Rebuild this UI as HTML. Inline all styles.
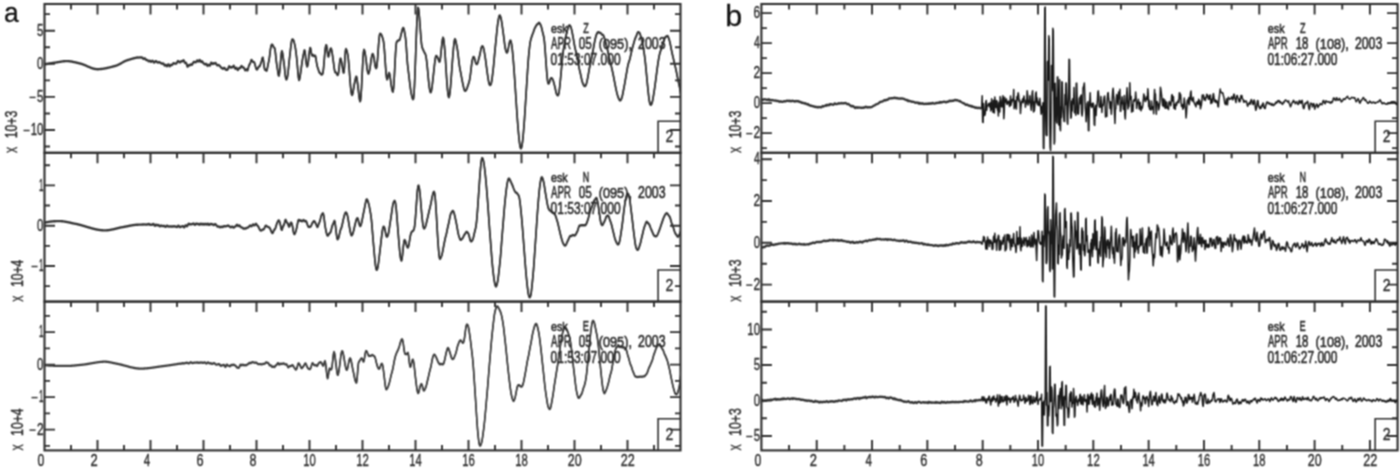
<!DOCTYPE html>
<html><head><meta charset="utf-8"><title>Seismograms</title>
<style>html,body{margin:0;padding:0;background:#fff;}body{width:1400px;height:468px;overflow:hidden;font-family:"Liberation Sans",sans-serif;}svg{display:block;}</style>
</head><body>
<svg width="1400" height="468" viewBox="0 0 1400 468" font-family="'Liberation Sans', sans-serif"><defs><filter id="soft" x="0" y="0" width="1400" height="468" filterUnits="userSpaceOnUse" color-interpolation-filters="sRGB"><feConvolveMatrix order="3" kernelMatrix="1 2 1 2 4 2 1 2 1" divisor="16" edgeMode="duplicate"/></filter></defs><g filter="url(#soft)"><rect width="1400" height="468" fill="#fff"/><path d="M71 4V9.5M97.5 4V14.5M124 4V9.5M150.5 4V14.5M177 4V9.5M203.5 4V14.5M230 4V9.5M256.5 4V14.5M283 4V9.5M309.5 4V14.5M336 4V9.5M362.5 4V14.5M389 4V9.5M415.5 4V14.5M442 4V9.5M468.5 4V14.5M495 4V9.5M521.5 4V14.5M548 4V9.5M574.5 4V14.5M601 4V9.5M627.5 4V14.5M654 4V9.5M44.5 146.55H50M680.5 146.55H675M44.5 130H55M680.5 130H670M44.5 113.45H50M680.5 113.45H675M44.5 96.9H55M680.5 96.9H670M44.5 80.35H50M680.5 80.35H675M44.5 63.8H55M680.5 63.8H670M44.5 47.25H50M680.5 47.25H675M44.5 30.7H55M680.5 30.7H670M44.5 14.15H50M680.5 14.15H675" stroke="#2e2e2e" stroke-width="1.9" fill="none"/>
<rect x="44.5" y="4" width="636" height="148.8" stroke="#2e2e2e" stroke-width="2.1" fill="none"/>
<path d="M789.06 4V9.5M816.72 4V14.5M844.38 4V9.5M872.04 4V14.5M899.7 4V9.5M927.36 4V14.5M955.02 4V9.5M982.68 4V14.5M1010.34 4V9.5M1038 4V14.5M1065.66 4V9.5M1093.32 4V14.5M1120.98 4V9.5M1148.64 4V14.5M1176.3 4V9.5M1203.96 4V14.5M1231.62 4V9.5M1259.28 4V14.5M1286.94 4V9.5M1314.6 4V14.5M1342.26 4V9.5M1369.92 4V14.5M761.4 148.1H766.9M1397.58 148.1H1392.08M761.4 133.1H771.9M1397.58 133.1H1387.08M761.4 118.1H766.9M1397.58 118.1H1392.08M761.4 103.1H771.9M1397.58 103.1H1387.08M761.4 88.1H766.9M1397.58 88.1H1392.08M761.4 73.1H771.9M1397.58 73.1H1387.08M761.4 58.1H766.9M1397.58 58.1H1392.08M761.4 43.1H771.9M1397.58 43.1H1387.08M761.4 28.1H766.9M1397.58 28.1H1392.08M761.4 13.1H771.9M1397.58 13.1H1387.08" stroke="#2e2e2e" stroke-width="1.9" fill="none"/>
<rect x="761.4" y="4" width="636.18" height="148.8" stroke="#2e2e2e" stroke-width="2.1" fill="none"/>
<path d="M71 152.8V158.3M97.5 152.8V163.3M124 152.8V158.3M150.5 152.8V163.3M177 152.8V158.3M203.5 152.8V163.3M230 152.8V158.3M256.5 152.8V163.3M283 152.8V158.3M309.5 152.8V163.3M336 152.8V158.3M362.5 152.8V163.3M389 152.8V158.3M415.5 152.8V163.3M442 152.8V158.3M468.5 152.8V163.3M495 152.8V158.3M521.5 152.8V163.3M548 152.8V158.3M574.5 152.8V163.3M601 152.8V158.3M627.5 152.8V163.3M654 152.8V158.3M44.5 286.15H50M680.5 286.15H675M44.5 266H55M680.5 266H670M44.5 245.85H50M680.5 245.85H675M44.5 225.7H55M680.5 225.7H670M44.5 205.55H50M680.5 205.55H675M44.5 185.4H55M680.5 185.4H670M44.5 165.25H50M680.5 165.25H675" stroke="#2e2e2e" stroke-width="1.9" fill="none"/>
<rect x="44.5" y="152.8" width="636" height="148.8" stroke="#2e2e2e" stroke-width="2.1" fill="none"/>
<path d="M789.06 152.8V158.3M816.72 152.8V163.3M844.38 152.8V158.3M872.04 152.8V163.3M899.7 152.8V158.3M927.36 152.8V163.3M955.02 152.8V158.3M982.68 152.8V163.3M1010.34 152.8V158.3M1038 152.8V163.3M1065.66 152.8V158.3M1093.32 152.8V163.3M1120.98 152.8V158.3M1148.64 152.8V163.3M1176.3 152.8V158.3M1203.96 152.8V163.3M1231.62 152.8V158.3M1259.28 152.8V163.3M1286.94 152.8V158.3M1314.6 152.8V163.3M1342.26 152.8V158.3M1369.92 152.8V163.3M761.4 284.6H771.9M1397.58 284.6H1387.08M761.4 263.7H766.9M1397.58 263.7H1392.08M761.4 242.8H771.9M1397.58 242.8H1387.08M761.4 221.9H766.9M1397.58 221.9H1392.08M761.4 201H771.9M1397.58 201H1387.08M761.4 180.1H766.9M1397.58 180.1H1392.08M761.4 159.2H771.9M1397.58 159.2H1387.08" stroke="#2e2e2e" stroke-width="1.9" fill="none"/>
<rect x="761.4" y="152.8" width="636.18" height="148.8" stroke="#2e2e2e" stroke-width="2.1" fill="none"/>
<path d="M71 301.6V307.1M71 450.4V444.9M97.5 301.6V312.1M97.5 450.4V439.9M124 301.6V307.1M124 450.4V444.9M150.5 301.6V312.1M150.5 450.4V439.9M177 301.6V307.1M177 450.4V444.9M203.5 301.6V312.1M203.5 450.4V439.9M230 301.6V307.1M230 450.4V444.9M256.5 301.6V312.1M256.5 450.4V439.9M283 301.6V307.1M283 450.4V444.9M309.5 301.6V312.1M309.5 450.4V439.9M336 301.6V307.1M336 450.4V444.9M362.5 301.6V312.1M362.5 450.4V439.9M389 301.6V307.1M389 450.4V444.9M415.5 301.6V312.1M415.5 450.4V439.9M442 301.6V307.1M442 450.4V444.9M468.5 301.6V312.1M468.5 450.4V439.9M495 301.6V307.1M495 450.4V444.9M521.5 301.6V312.1M521.5 450.4V439.9M548 301.6V307.1M548 450.4V444.9M574.5 301.6V312.1M574.5 450.4V439.9M601 301.6V307.1M601 450.4V444.9M627.5 301.6V312.1M627.5 450.4V439.9M654 301.6V307.1M654 450.4V444.9M44.5 445.85H50M680.5 445.85H675M44.5 429.6H55M680.5 429.6H670M44.5 413.35H50M680.5 413.35H675M44.5 397.1H55M680.5 397.1H670M44.5 380.85H50M680.5 380.85H675M44.5 364.6H55M680.5 364.6H670M44.5 348.35H50M680.5 348.35H675M44.5 332.1H55M680.5 332.1H670M44.5 315.85H50M680.5 315.85H675" stroke="#2e2e2e" stroke-width="1.9" fill="none"/>
<rect x="44.5" y="301.6" width="636" height="148.8" stroke="#2e2e2e" stroke-width="2.1" fill="none"/>
<path d="M789.06 301.6V307.1M789.06 450.4V444.9M816.72 301.6V312.1M816.72 450.4V439.9M844.38 301.6V307.1M844.38 450.4V444.9M872.04 301.6V312.1M872.04 450.4V439.9M899.7 301.6V307.1M899.7 450.4V444.9M927.36 301.6V312.1M927.36 450.4V439.9M955.02 301.6V307.1M955.02 450.4V444.9M982.68 301.6V312.1M982.68 450.4V439.9M1010.34 301.6V307.1M1010.34 450.4V444.9M1038 301.6V312.1M1038 450.4V439.9M1065.66 301.6V307.1M1065.66 450.4V444.9M1093.32 301.6V312.1M1093.32 450.4V439.9M1120.98 301.6V307.1M1120.98 450.4V444.9M1148.64 301.6V312.1M1148.64 450.4V439.9M1176.3 301.6V307.1M1176.3 450.4V444.9M1203.96 301.6V312.1M1203.96 450.4V439.9M1231.62 301.6V307.1M1231.62 450.4V444.9M1259.28 301.6V312.1M1259.28 450.4V439.9M1286.94 301.6V307.1M1286.94 450.4V444.9M1314.6 301.6V312.1M1314.6 450.4V439.9M1342.26 301.6V307.1M1342.26 450.4V444.9M1369.92 301.6V312.1M1369.92 450.4V439.9M761.4 436H771.9M1397.58 436H1387.08M761.4 418.25H766.9M1397.58 418.25H1392.08M761.4 400.5H771.9M1397.58 400.5H1387.08M761.4 382.75H766.9M1397.58 382.75H1392.08M761.4 365H771.9M1397.58 365H1387.08M761.4 347.25H766.9M1397.58 347.25H1392.08M761.4 329.5H771.9M1397.58 329.5H1387.08M761.4 311.75H766.9M1397.58 311.75H1392.08" stroke="#2e2e2e" stroke-width="1.9" fill="none"/>
<rect x="761.4" y="301.6" width="636.18" height="148.8" stroke="#2e2e2e" stroke-width="2.1" fill="none"/>
<defs><clipPath id="ca0"><rect x="44.5" y="4" width="636" height="148.8"/></clipPath><clipPath id="ca1"><rect x="44.5" y="152.8" width="636" height="148.8"/></clipPath><clipPath id="ca2"><rect x="44.5" y="301.6" width="636" height="148.8"/></clipPath><clipPath id="cb0"><rect x="761.4" y="4" width="636.2" height="148.8"/></clipPath><clipPath id="cb1"><rect x="761.4" y="152.8" width="636.2" height="148.8"/></clipPath><clipPath id="cb2"><rect x="761.4" y="301.6" width="636.2" height="148.8"/></clipPath></defs>
<g clip-path="url(#ca0)"><path id="ca0p" d="M45 64.4 45.5 64.3 46 64.21 46.5 64.11 47 64.02 47.5 63.93 48 63.83 48.5 63.74 49 63.65 49.5 63.56 50 63.48 50.5 63.39 51 63.3 51.5 63.22 52 63.13 52.5 63.05 53 62.97 53.5 62.89 54 62.81 54.5 62.73 55 62.65 55.5 62.58 56 62.5 56.5 62.42 57 62.34 57.5 62.26 58 62.17 58.5 62.09 59 62 59.5 61.91 60 61.83 60.5 61.74 61 61.66 61.5 61.58 62 61.5 62.5 61.43 63 61.36 63.5 61.3 64 61.25 64.5 61.2 65 61.16 65.5 61.13 66 61.11 66.5 61.1 67 61.1 67.5 61.11 68 61.14 68.5 61.17 69 61.21 69.5 61.27 70 61.33 70.5 61.4 71 61.47 71.5 61.56 72 61.65 72.5 61.74 73 61.84 73.5 61.95 74 62.06 74.5 62.17 75 62.29 75.5 62.41 76 62.53 76.5 62.65 77 62.78 77.5 62.9 78 63.02 78.5 63.14 79 63.26 79.5 63.38 80 63.5 80.5 63.62 81 63.76 81.5 63.91 82 64.07 82.5 64.24 83 64.42 83.5 64.61 84 64.81 84.5 65.01 85 65.22 85.5 65.44 86 65.66 86.5 65.88 87 66.1 87.5 66.32 88 66.54 88.5 66.76 89 66.98 89.5 67.19 90 67.4 90.5 67.6 91 67.8 91.5 67.98 92 68.16 92.5 68.33 93 68.48 93.5 68.63 94 68.75 94.5 68.87 95 68.97 95.5 69.05 96 69.12 96.5 69.17 97 69.19 97.5 69.2 98 69.19 98.5 69.18 99 69.16 99.5 69.13 100 69.1 100.5 69.06 101 69.01 101.5 68.96 102 68.9 102.5 68.83 103 68.76 103.5 68.68 104 68.6 104.5 68.51 105 68.42 105.5 68.33 106 68.23 106.5 68.12 107 68.02 107.5 67.91 108 67.79 108.5 67.68 109 67.56 109.5 67.44 110 67.31 110.5 67.19 111 67.06 111.5 66.93 112 66.8 112.5 66.67 113 66.53 113.5 66.4 114 66.27 114.5 66.13 115 66 115.5 65.86 116 65.69 116.5 65.51 117 65.31 117.5 65.1 118 64.87 118.5 64.63 119 64.38 119.5 64.13 120 63.86 120.5 63.59 121 63.32 121.5 63.04 122 62.77 122.5 62.49 123 62.22 123.5 61.95 124 61.69 124.5 61.44 125 61.19 125.5 60.96 126 60.73 126.5 60.52 127 60.33 127.5 60.16 128 60 128.5 59.85 129 59.7 129.5 59.55 130 59.4 130.5 59.25 131 59.1 131.5 58.95 132 58.8 132.5 58.66 133 58.52 133.5 58.39 134 58.26 134.5 58.14 135 58.02 135.5 57.93 136 57.8 136.5 57.65 137 57.51 137.5 57.49 138 57.59 138.5 57.65 139 57.55 139.5 57.39 140 57.34 140.5 57.43 141 57.46 141.5 57.38 142 57.45 142.5 57.91 143 58.58 143.5 58.95 144 58.76 144.5 58.38 145 58.47 145.5 59.19 146 59.93 146.5 60.15 147 60.02 147.5 60.13 148 60.67 148.5 61.2 149 61.2 149.5 60.82 150 60.72 150.5 61.2 151 61.76 151.5 61.68 152 61.06 152.5 60.69 153 61.13 153.5 62.02 154 62.54 154.5 62.33 155 61.72 155.5 61.24 156 61.16 156.5 61.47 157 61.98 157.5 62.41 158 62.5 158.5 62.27 159 62.07 159.5 62.18 160 62.51 160.5 62.83 161 63.12 161.5 63.49 162 63.76 162.5 63.65 163 63.35 163.5 63.56 164 64.51 164.5 65.46 165 65.55 165.5 65.02 166 64.95 166.5 65.7 167 66.29 167.5 65.76 168 64.64 168.5 64.36 169 65.28 169.5 66.23 170 66.09 170.5 65.24 171 64.79 171.5 64.99 172 65.04 172.5 64.41 173 63.58 173.5 63.24 174 63.39 174.5 63.54 175 63.55 175.5 63.61 176 63.68 176.5 63.36 177 62.51 177.5 61.54 178 61.04 178.5 61.21 179 61.79 179.5 62.31 180 62.4 180.5 61.95 181 61.36 181.5 61.18 182 61.39 182.5 61.35 183 60.73 183.5 60.22 184 60.68 184.5 62.02 185 62.98 185.5 62.87 186 62.7 186.5 63.73 187 65.61 187.5 66.72 188 66.27 188.5 65.36 189 65.16 189.5 65.43 190 65.24 190.5 64.57 191 64.26 191.5 64.57 192 64.74 192.5 64.1 193 62.98 193.5 62.16 194 61.86 194.5 61.89 195 62.09 195.5 62.31 196 62.15 196.5 61.36 197 60.5 197.5 60.5 198 61.25 198.5 61.59 199 60.86 199.5 59.99 200 60.2 200.5 61.31 201 61.97 201.5 61.64 202 61.26 202.5 61.71 203 62.67 203.5 63.34 204 63.65 204.5 64.05 205 64.42 205.5 64.24 206 63.78 206.5 64.01 207 65.1 207.5 65.91 208 65.53 208.5 64.7 209 64.75 209.5 65.54 210 65.57 210.5 64.23 211 62.78 211.5 62.68 212 63.58 212.5 64.08 213 63.69 213.5 63.25 214 63.37 214.5 63.56 215 63.26 215.5 62.92 216 63.36 216.5 64.46 217 65.3 217.5 65.35 218 65.05 218.5 64.99 219 65.25 219.5 65.64 220 66.15 220.5 66.83 221 67.48 221.5 67.9 222 68.19 222.5 68.54 223 68.73 223.5 68.42 224 67.89 224.5 67.87 225 68.58 225.5 69.41 226 69.73 226.5 69.7 227 69.77 227.5 69.75 228 68.95 228.5 67.43 229 66.3 229.5 66.39 230 67.22 230.5 67.66 231 67.4 231.5 67.15 232 67.32 232.5 67.32 233 66.61 233.5 65.76 234 65.94 234.5 67.31 235 68.62 235.5 68.69 236 67.91 236.5 67.71 237 68.7 237.5 69.91 238 70.04 238.5 69.09 239 68.21 239.5 68.04 240 68.17 240.5 67.67 241 66.58 241.5 65.98 242 66.44 242.5 67.25 243 67.51 243.5 67.39 244 67.83 244.5 69.12 245 70.24 245.5 70.21 246 69.46 246.5 69.33 247 70.12 247.5 70.47 248 69.29 248.5 67.07 249 65.28 249.5 64.5 250 63.84 250.5 62.41 251 60.66 251.5 59.9 252 60.46 252.5 61.4 253 61.88 253.5 61.96 254 62.19 254.5 62.78 255 64.37 255.5 66.51 256 68.4 256.5 69.27 257 69.56 257.5 69.1 258 68.01 258.5 67.04 259 66.63 259.5 66.42 260 65.59 260.5 64.31 261 62.93 261.5 61.33 262 59.36 262.5 57.63 263 57.76 263.5 60.98 264 65.43 264.5 68.69 265 69.87 265.5 69.73 266 70.11 266.5 70.79 267 70.04 267.5 67.54 268 64.84 268.5 62.52 269 60.18 269.5 56.98 270 52.88 270.5 49 271 46.29 271.5 44.86 272 44.55 272.5 44.77 273 45.74 273.5 46.92 274 47.52 274.5 47.78 275 49.38 275.5 53.5 276 58.54 276.5 62.72 277 65.9 277.5 69.15 278 72.74 278.5 75.44 279 75.77 279.5 72.85 280 68.09 280.5 62.57 281 56.88 281.5 52.34 282 51.03 282.5 52.89 283 56.22 283.5 59.74 284 63.4 284.5 67.82 285 72.77 285.5 76.88 286 79.08 286.5 79.43 287 78.54 287.5 76.56 288 73.05 288.5 68.19 289 63.03 289.5 58.36 290 54.03 290.5 49.54 291 45.11 291.5 41.62 292 39.7 292.5 39.34 293 39.54 293.5 40.25 294 41.72 294.5 43.74 295 45.81 295.5 48.68 296 52.23 296.5 56.4 297 61.33 297.5 67.06 298 73.01 298.5 77.85 299 80.14 299.5 79.33 300 76.72 300.5 73.46 301 69.98 301.5 66.32 302 62.68 302.5 59.51 303 56.85 303.5 54.27 304 51.71 304.5 50.17 305 51.55 305.5 55.67 306 60.66 306.5 64.59 307 66.51 307.5 66.26 308 63.96 308.5 60.27 309 55.62 309.5 50.94 310 47.92 310.5 48.16 311 51.01 311.5 54.17 312 55.55 312.5 54.99 313 54.91 313.5 55.56 314 56.24 314.5 56.18 315 55.55 315.5 56.15 316 58.83 316.5 62.3 317 65.18 317.5 67.13 318 68.49 318.5 70.14 319 71.74 319.5 72.58 320 72.93 320.5 73.48 321 74.22 321.5 74.59 322 74.47 322.5 74.22 323 72.39 323.5 68.65 324 63.14 324.5 56.84 325 51.24 325.5 47.24 326 45.11 326.5 45.39 327 48.25 327.5 52.45 328 55.94 328.5 56.76 329 54.79 329.5 52.13 330 50 330.5 48.63 331 48.38 331.5 49.48 332 51.97 332.5 55.32 333 58.87 333.5 62.5 334 66.38 334.5 69.95 335 72.07 335.5 72.38 336 72.49 336.5 73.24 337 74.38 337.5 75.05 338 74.91 338.5 73.18 339 68.9 339.5 63.93 340 59.86 340.5 58.45 341 59.31 341.5 61.46 342 64.49 342.5 67.84 343 70.84 343.5 72.74 344 72.38 344.5 66.17 345 57.33 345.5 50.35 346 48.95 346.5 49.78 347 51.42 347.5 53.62 348 56.34 348.5 60.76 349 66.5 349.5 73.08 350 79.82 350.5 85.94 351 90.8 351.5 94.02 352 95.1 352.5 94.36 353 92.2 353.5 89.17 354 86.08 354.5 83.37 355 80.87 355.5 78.49 356 76.78 356.5 76.66 357 78.92 357.5 82.7 358 87.03 358.5 91.48 359 95.81 359.5 99.41 360 101.41 360.5 100.64 361 95.67 361.5 87.78 362 78.16 362.5 67.98 363 58.7 363.5 52.07 364 49.66 364.5 50.61 365 52.79 365.5 55.83 366 59.56 366.5 63.75 367 67.87 367.5 71.2 368 73.2 368.5 73.66 369 72.72 369.5 70.81 370 68.05 370.5 64.53 371 60.75 371.5 57.46 372 55.18 372.5 54.03 373 54.16 373.5 55.71 374 58.49 374.5 61.92 375 65.06 375.5 67.24 376 68.31 376.5 67.95 377 65.05 377.5 59.84 378 52.97 378.5 45.67 379 39.38 379.5 35.14 380 33.63 380.5 33.8 381 34.18 381.5 34.95 382 36.16 382.5 37.69 383 39.39 383.5 41.29 384 45.29 384.5 51.22 385 58.38 385.5 65.87 386 72.57 386.5 77.37 387 79.47 387.5 78.7 388 76.48 388.5 74.09 389 72.84 389.5 73.58 390 75.93 390.5 79.39 391 83.21 391.5 86.69 392 89.45 392.5 91.27 393 91.76 393.5 88.76 394 82.2 394.5 73.24 395 63.25 395.5 53.81 396 46.41 396.5 42.29 397 41.56 397.5 41.07 398 40.61 398.5 40.38 399 40.31 399.5 40.02 400 38.91 400.5 37 401 34.89 401.5 32.83 402 30.83 402.5 29.03 403 27.92 403.5 28.04 404 29.39 404.5 31.68 405 34.57 405.5 37.8 406 42.43 406.5 49.78 407 57.69 407.5 63.82 408 68.17 408.5 72.33 409 76.46 409.5 80.69 410 84.9 410.5 88.76 411 92.04 411.5 94.75 412 96.95 412.5 98.53 413 99.3 413.5 98.86 414 94.01 414.5 85.01 415 72.95 415.5 59.09 416 44.89 416.5 31.62 417 20.26 417.5 11.8 418 7.68 418.5 8.56 419 12.59 419.5 18.47 420 25.08 420.5 31.84 421 38.35 421.5 43.76 422 46.82 422.5 48.34 423 49.41 423.5 50.52 424 51.66 424.5 52.58 425 53.37 425.5 54.5 426 56.41 426.5 59.69 427 63.97 427.5 68.95 428 74.45 428.5 79.99 429 84.83 429.5 88.52 430 91.02 430.5 92.31 431 92.1 431.5 90.31 432 87.09 432.5 82.98 433 78.56 433.5 74.03 434 69.36 434.5 64.68 435 60.5 435.5 57.46 436 55.95 436.5 55.95 437 56.57 437.5 57.43 438 58.56 438.5 59.94 439 61.22 439.5 61.87 440 60.86 440.5 57.47 441 52.79 441.5 47.73 442 42.99 442.5 39.31 443 37.59 443.5 38.57 444 41.83 444.5 46.7 445 52.83 445.5 60.1 446 68.19 446.5 76.34 447 83.66 447.5 89.6 448 94.01 448.5 96.71 449 97.24 449.5 95.6 450 92.05 450.5 86.95 451 80.75 451.5 73.88 452 66.85 452.5 60.09 453 53.84 453.5 48.18 454 43.39 454.5 40.09 455 39.02 455.5 40.01 456 42.06 456.5 44.52 457 47.11 457.5 50.1 458 53.79 458.5 58.09 459 62.44 459.5 66.22 460 69.22 460.5 71.62 461 74.19 461.5 77.02 462 79.74 462.5 82.22 463 84.61 463.5 86.94 464 88.94 464.5 90.26 465 90.81 465.5 90.73 466 90.31 466.5 89.5 467 88.3 467.5 86.87 468 85.38 468.5 83.86 469 82.34 469.5 80.37 470 77.58 470.5 74.03 471 69.83 471.5 65.51 472 61.85 472.5 59.29 473 57.67 473.5 56.87 474 57.07 474.5 58.32 475 60.34 475.5 62.32 476 63.61 476.5 64.16 477 64.06 477.5 63.39 478 61.95 478.5 59.97 479 57.96 479.5 56.1 480 54 480.5 51.45 481 48.94 481.5 47.21 482 46.43 482.5 46.27 483 46.69 483.5 47.97 484 50.21 484.5 53.05 485 56.06 485.5 59.28 486 62.95 486.5 66.94 487 70.82 487.5 74.36 488 77.71 488.5 80.82 489 83.21 489.5 84.53 490 85.01 490.5 84.98 491 84.24 491.5 82.32 492 79.14 492.5 75.26 493 71.12 493.5 66.57 494 61.28 494.5 55.53 495 50.02 495.5 44.98 496 40.04 496.5 34.9 497 29.87 497.5 25.47 498 21.83 498.5 18.82 499 16.56 499.5 15.4 500 15.51 500.5 16.62 501 18.41 501.5 20.9 502 24.09 502.5 27.66 503 31.25 503.5 34.9 504 38.87 504.5 43.04 505 46.77 505.5 49.49 506 51.22 506.5 52.27 507 52.65 507.5 51.91 508 50.04 508.5 47.49 509 44.8 509.5 42.43 510 40.83 510.5 40.44 511 41.47 511.5 43.74 512 47.06 512.5 51.37 513 56.61 513.5 62.68 514 69.35 514.5 76.44 515 83.82 515.5 91.4 516 99.06 516.5 106.67 517 114.04 517.5 120.95 518 127.27 518.5 133.03 519 138.28 519.5 142.78 520 146.09 520.5 147.94 521 148.4 521.5 147.59 522 145.51 522.5 142.08 523 137.42 523.5 131.87 524 125.68 524.5 118.77 525 111.14 525.5 103.13 526 95.2 526.5 87.41 527 79.55 527.5 71.65 528 64.22 528.5 57.76 529 52.28 529.5 47.56 530 43.59 530.5 40.74 531 38.89 531.5 37.24 532 35.74 532.5 34.39 533 33.12 533.5 31.74 534 30.24 534.5 28.86 535 27.79 535.5 26.9 536 25.99 536.5 25.12 537 24.52 537.5 24.16 538 23.74 538.5 23.17 539 22.81 539.5 23.01 540 23.8 540.5 24.74 541 25.81 541.5 27.36 542 29.47 542.5 31.7 543 33.68 543.5 35.63 544 38.07 544.5 42.2 545 48.23 545.5 55.09 546 62.2 546.5 69.21 547 75.52 547.5 80.39 548 83.16 548.5 83.64 549 83.26 549.5 82.09 550 80.41 550.5 78.94 551 78.21 551.5 78.13 552 78.43 552.5 79.05 553 80.13 553.5 81.71 554 83.49 554.5 85.3 555 87.31 555.5 89.65 556 92.02 556.5 93.83 557 94.82 557.5 95.25 558 95.39 558.5 94.57 559 92.35 559.5 88.78 560 84.21 560.5 79.07 561 73.69 561.5 68.27 562 62.93 562.5 57.81 563 53.13 563.5 49.22 564 46.39 564.5 43.9 565 41.42 565.5 38.79 566 36.1 566.5 33.64 567 31.57 567.5 29.76 568 28.05 568.5 26.55 569 25.59 569.5 25.32 570 25.62 570.5 26.37 571 27.55 571.5 29.29 572 31.55 572.5 34.09 573 36.72 573.5 39.5 574 42.47 574.5 45.41 575 47.96 575.5 49.97 576 51.87 576.5 54.11 577 56.57 577.5 59.09 578 61.67 578.5 64.41 579 67.2 579.5 69.71 580 71.85 580.5 73.92 581 76.22 581.5 78.64 582 80.8 582.5 82.47 583 83.75 583.5 84.82 584 85.63 584.5 86.06 585 86.12 585.5 85.72 586 84.81 586.5 83.33 587 81.33 587.5 78.96 588 76.34 588.5 73.45 589 70.48 589.5 67.74 590 65.42 590.5 63.32 591 61.15 591.5 58.55 592 55.84 592.5 53.29 593 50.72 593.5 47.94 594 45.07 594.5 42.39 595 40.01 595.5 37.86 596 35.96 596.5 34.47 597 33.41 597.5 32.65 598 32.24 598.5 32.13 599 32.36 599.5 32.71 600 32.87 600.5 32.94 601 33.29 601.5 34 602 34.65 602.5 34.88 603 35 603.5 35.65 604 36.9 604.5 38.39 605 39.89 605.5 41.57 606 43.6 606.5 45.79 607 47.83 607.5 49.77 608 51.94 608.5 54.38 609 56.75 609.5 58.79 610 60.64 610.5 62.61 611 64.75 611.5 67 612 69.21 612.5 71.44 613 73.81 613.5 76.31 614 78.86 614.5 81.44 615 84.04 615.5 86.61 616 89.04 616.5 91.28 617 93.33 617.5 95.17 618 96.74 618.5 98.07 619 99.19 619.5 100.03 620 100.44 620.5 100.31 621 99.69 621.5 98.69 622 97.21 622.5 95.13 623 92.61 623.5 89.99 624 87.44 624.5 84.81 625 81.93 625.5 78.92 626 76.04 626.5 73.28 627 70.46 627.5 67.58 628 65.03 628.5 63.18 629 61.73 629.5 60.19 630 58.31 630.5 56.17 631 53.96 631.5 51.77 632 49.64 632.5 47.65 633 45.86 633.5 44.16 634 42.37 634.5 40.53 635 38.93 635.5 37.73 636 36.72 636.5 35.53 637 34.13 637.5 32.91 638 32.26 638.5 32.18 639 32.37 639.5 32.86 640 33.84 640.5 35.3 641 37.01 641.5 38.79 642 40.73 642.5 43.13 643 46.06 643.5 49.15 644 52.04 644.5 55.32 645 59.19 645.5 63.79 646 68.96 646.5 74.32 647 79.59 647.5 84.75 648 89.8 648.5 94.6 649 98.75 649.5 101.91 650 103.91 650.5 104.8 651 104.75 651.5 104.18 652 103 652.5 101.09 653 98.53 653.5 95.57 654 92.41 654.5 89.1 655 85.57 655.5 81.83 656 77.98 656.5 74.1 657 70.25 657.5 66.52 658 63.04 658.5 59.87 659 57.02 659.5 54.54 660 52.56 660.5 51.04 661 49.52 661.5 47.86 662 46.08 662.5 44.41 663 43.01 663.5 41.76 664 40.39 664.5 38.93 665 37.69 665.5 36.96 666 36.63 666.5 36.38 667 36.06 667.5 35.94 668 36.47 668.5 37.58 669 39.04 669.5 40.74 670 42.77 670.5 45.16 671 47.75 671.5 50.27 672 52.63 672.5 54.86 673 56.99 673.5 59.08 674 61.22 674.5 63.37 675 65.53 675.5 67.66 676 69.82 676.5 72.15 677 74.73 677.5 77.41 678 79.94 678.5 82.19 679 84.38 679.5 86.81 680 89.55 680.5 92.36 681 95.06" stroke="#333333" stroke-width="1.6" fill="none" stroke-linejoin="round" transform="translate(0 -0.4)"/><use href="#ca0p" transform="translate(0 0.8)"/></g>
<g clip-path="url(#ca1)"><path id="ca1p" d="M45 222.6 45.5 222.49 46 222.38 46.5 222.27 47 222.17 47.5 222.08 48 221.99 48.5 221.91 49 221.83 49.5 221.75 50 221.68 50.5 221.62 51 221.55 51.5 221.5 52 221.44 52.5 221.4 53 221.35 53.5 221.31 54 221.27 54.5 221.24 55 221.21 55.5 221.19 56 221.16 56.5 221.14 57 221.13 57.5 221.12 58 221.11 58.5 221.1 59 221.1 59.5 221.1 60 221.11 60.5 221.13 61 221.16 61.5 221.2 62 221.24 62.5 221.29 63 221.35 63.5 221.42 64 221.49 64.5 221.57 65 221.65 65.5 221.74 66 221.83 66.5 221.92 67 222.02 67.5 222.12 68 222.23 68.5 222.33 69 222.44 69.5 222.55 70 222.66 70.5 222.77 71 222.89 71.5 223 72 223.11 72.5 223.21 73 223.32 73.5 223.42 74 223.53 74.5 223.62 75 223.72 75.5 223.82 76 223.92 76.5 224.02 77 224.13 77.5 224.25 78 224.37 78.5 224.49 79 224.62 79.5 224.74 80 224.88 80.5 225.01 81 225.15 81.5 225.29 82 225.43 82.5 225.57 83 225.72 83.5 225.86 84 226.01 84.5 226.16 85 226.31 85.5 226.46 86 226.61 86.5 226.76 87 226.91 87.5 227.06 88 227.21 88.5 227.36 89 227.5 89.5 227.65 90 227.79 90.5 227.94 91 228.08 91.5 228.22 92 228.36 92.5 228.49 93 228.62 93.5 228.75 94 228.88 94.5 229 95 229.12 95.5 229.23 96 229.34 96.5 229.45 97 229.55 97.5 229.65 98 229.74 98.5 229.83 99 229.91 99.5 229.99 100 230.06 100.5 230.12 101 230.18 101.5 230.23 102 230.28 102.5 230.32 103 230.35 103.5 230.37 104 230.39 104.5 230.4 105 230.4 105.5 230.39 106 230.37 106.5 230.34 107 230.3 107.5 230.26 108 230.2 108.5 230.14 109 230.07 109.5 230 110 229.92 110.5 229.83 111 229.73 111.5 229.64 112 229.53 112.5 229.43 113 229.32 113.5 229.2 114 229.09 114.5 228.97 115 228.85 115.5 228.73 116 228.61 116.5 228.49 117 228.36 117.5 228.24 118 228.12 118.5 228 119 227.88 119.5 227.77 120 227.66 120.5 227.55 121 227.44 121.5 227.34 122 227.24 122.5 227.15 123 227.07 123.5 226.98 124 226.89 124.5 226.79 125 226.7 125.5 226.6 126 226.5 126.5 226.4 127 226.3 127.5 226.2 128 226.1 128.5 226 129 225.9 129.5 225.8 130 225.71 130.5 225.61 131 225.52 131.5 225.43 132 225.35 132.5 225.26 133 225.18 133.5 225.11 134 225.04 134.5 224.98 135 224.92 135.5 224.86 136 224.81 136.5 224.77 137 224.74 137.5 224.71 138 224.69 138.5 224.67 139 224.65 139.5 224.63 140 224.61 140.5 224.6 141 224.61 141.5 224.59 142 224.53 142.5 224.49 143 224.48 143.5 224.44 144 224.37 144.5 224.35 145 224.46 145.5 224.6 146 224.63 146.5 224.56 147 224.5 147.5 224.44 148 224.27 148.5 224.03 149 224.01 149.5 224.35 150 224.72 150.5 224.75 151 224.59 151.5 224.61 152 224.75 152.5 224.58 153 224.08 153.5 223.86 154 224.43 154.5 225.36 155 225.71 155.5 225.24 156 224.7 156.5 224.79 157 225.27 157.5 225.42 158 225.09 158.5 224.93 159 225.38 159.5 226.1 160 226.36 160.5 226.02 161 225.58 161.5 225.54 162 225.86 162.5 226.16 163 226.15 163.5 225.93 164 225.82 164.5 226.08 165 226.58 165.5 226.89 166 226.67 166.5 226.05 167 225.63 167.5 225.8 168 226.31 168.5 226.62 169 226.55 169.5 226.38 170 226.37 170.5 226.45 171 226.44 171.5 226.39 172 226.43 172.5 226.51 173 226.46 173.5 226.31 174 226.29 174.5 226.42 175 226.51 175.5 226.49 176 226.59 176.5 226.91 177 227.07 177.5 226.66 178 225.96 178.5 225.73 179 226.25 179.5 226.97 180 227.18 180.5 226.9 181 226.64 181.5 226.58 182 226.43 182.5 226.11 183 226.09 183.5 226.68 184 227.38 184.5 227.29 185 226.31 185.5 225.35 186 225.3 186.5 225.95 187 226.3 187.5 225.72 188 224.6 188.5 223.82 189 223.81 189.5 224.24 190 224.51 190.5 224.4 191 224.16 191.5 224.12 192 224.2 192.5 224.05 193 223.66 193.5 223.52 194 223.99 194.5 224.7 195 224.9 195.5 224.37 196 223.72 196.5 223.63 197 223.97 197.5 224.12 198 223.97 198.5 224.02 199 224.45 199.5 224.73 200 224.35 200.5 223.7 201 223.62 201.5 224.18 202 224.55 202.5 224.25 203 223.8 203.5 223.97 204 224.54 204.5 224.66 205 224.14 205.5 223.73 206 224.02 206.5 224.55 207 224.49 207.5 223.95 208 223.76 208.5 224.28 209 224.86 209.5 224.79 210 224.25 210.5 223.92 211 224.02 211.5 224.18 212 224.17 212.5 224.23 213 224.58 213.5 224.95 214 224.93 214.5 224.52 215 224.19 215.5 224.26 216 224.73 216.5 225.43 217 226.14 217.5 226.58 218 226.63 218.5 226.5 219 226.6 219.5 227.01 220 227.31 220.5 227.18 221 226.83 221.5 226.74 222 226.98 222.5 227.11 223 226.81 223.5 226.32 224 226.1 224.5 226.23 225 226.4 225.5 226.37 226 226.23 226.5 226.09 227 225.94 227.5 225.72 228 225.57 228.5 225.65 229 225.96 229.5 226.39 230 226.85 230.5 227.19 231 227.22 231.5 226.91 232 226.64 232.5 226.79 233 227.29 233.5 227.61 234 227.41 234.5 226.96 235 226.69 235.5 226.47 236 225.91 236.5 225.11 237 224.75 237.5 225.21 238 225.9 238.5 226.04 239 225.66 239.5 225.5 240 226.04 240.5 226.89 241 227.37 241.5 227.37 242 227.41 242.5 227.84 243 228.42 243.5 228.69 244 228.57 244.5 228.41 245 228.43 245.5 228.5 246 228.38 246.5 228.06 247 227.75 247.5 227.61 248 227.52 248.5 227.23 249 226.61 249.5 225.92 250 225.54 250.5 225.68 251 226.1 251.5 226.24 252 225.79 252.5 225 253 224.51 253.5 224.7 254 225.24 254.5 225.41 255 224.9 255.5 224.13 256 223.83 256.5 224.22 257 225.03 257.5 225.73 258 226.23 258.5 226.91 259 227.97 259.5 229.12 260 229.95 260.5 230.36 261 230.46 261.5 230.33 262 230.05 262.5 229.7 263 229.49 263.5 229.38 264 228.95 264.5 227.96 265 226.73 265.5 225.88 266 225.71 266.5 226 267 226.36 267.5 226.68 268 226.95 268.5 227.14 269 227.3 269.5 227.68 270 228.47 270.5 229.58 271 230.79 271.5 231.91 272 232.79 272.5 233.07 273 232.5 273.5 231.25 274 230.11 274.5 229.52 275 229.03 275.5 227.96 276 226.29 276.5 224.6 277 223.26 277.5 222.13 278 221.11 278.5 220.47 279 220.5 279.5 221.54 280 223.18 280.5 225.33 281 227.83 281.5 229.72 282 229.73 282.5 228.19 283 226.54 283.5 225.65 284 224.87 284.5 223.2 285 220.98 285.5 219.78 286 220.39 286.5 221.77 287 222.63 287.5 223.1 288 224.12 288.5 225.71 289 226.72 289.5 226.31 290 224.62 290.5 223.15 291 222.55 291.5 222.87 292 224.05 292.5 226.26 293 229.33 293.5 232.25 294 233.98 294.5 234.19 295 233.37 295.5 232.19 296 230.67 296.5 228.72 297 226.34 297.5 223.7 298 221.26 298.5 219.83 299 219.9 299.5 220.46 300 220.74 300.5 220.56 301 220.47 301.5 220.87 302 221.35 302.5 221.19 303 220.5 303.5 220.08 304 220.42 304.5 221.04 305 221.25 305.5 221.05 306 221.02 306.5 221.91 307 223.43 307.5 224.95 308 226.12 308.5 226.78 309 226.98 309.5 226.88 310 226.8 310.5 226.65 311 226.05 311.5 224.93 312 223.73 312.5 222.83 313 222.16 313.5 221.52 314 221.09 314.5 221.32 315 222.15 315.5 223.1 316 224.04 316.5 225.2 317 226.46 317.5 227.04 318 226.28 318.5 224.69 319 223.23 319.5 222.14 320 220.78 320.5 218.76 321 216.63 321.5 215.16 322 214.33 322.5 213.63 323 213.28 323.5 214.47 324 217.44 324.5 221.4 325 225.21 325.5 228.32 326 230.9 326.5 233.18 327 234.96 327.5 235.67 328 235.57 328.5 234.94 329 234.04 329.5 233.29 330 232.84 330.5 232.32 331 230.99 331.5 228.8 332 226.64 332.5 225.13 333 224.04 333.5 222.85 334 221.57 334.5 220.85 335 222.24 335.5 225.94 336 230.53 336.5 234.83 337 238.01 337.5 239.3 338 239.01 338.5 238.04 339 236.34 339.5 234.1 340 231.76 340.5 229.88 341 228.67 341.5 227.53 342 225.75 342.5 223.41 343 220.96 343.5 218.76 344 216.79 344.5 214.96 345 213.48 345.5 212.64 346 212.48 346.5 212.87 347 213.95 347.5 215.76 348 218.31 348.5 221.33 349 224.4 349.5 227.33 350 230.14 350.5 232.71 351 234.61 351.5 235.4 352 235.12 352.5 234.27 353 232.97 353.5 231.21 354 229.11 354.5 226.93 355 224.83 355.5 222.81 356 220.87 356.5 219.26 357 218.31 357.5 218.16 358 219.07 358.5 220.88 359 223.01 359.5 224.93 360 226.09 360.5 226.03 361 224.87 361.5 223.06 362 220.81 362.5 218.21 363 215.49 363.5 213.09 364 210.69 364.5 208.15 365 205.55 365.5 202.98 366 200.78 366.5 199.46 367 199.37 367.5 200.25 368 201.55 368.5 203.07 369 204.99 369.5 207.47 370 210.28 370.5 212.95 371 216.18 371.5 220.55 372 226.07 372.5 232.31 373 238.54 373.5 244.42 374 250.13 374.5 255.84 375 261.19 375.5 265.53 376 268.44 376.5 269.86 377 269.83 377.5 268.6 378 266.19 378.5 262.78 379 258.75 379.5 254.52 380 250.3 380.5 246.12 381 241.85 381.5 237.49 382 233.33 382.5 229.93 383 227.69 383.5 226.61 384 226.6 384.5 227.76 385 229.9 385.5 232.59 386 235.03 386.5 236.49 387 236.68 387.5 236.15 388 235.18 388.5 233.37 389 230.49 389.5 227.01 390 223.59 390.5 220.46 391 217.28 391.5 213.78 392 210.16 392.5 206.9 393 204.34 393.5 202.54 394 201.4 394.5 200.85 395 201.2 395.5 203.11 396 206.65 396.5 211.74 397 217.88 397.5 224.37 398 230.76 398.5 237.05 399 243.25 399.5 249.05 400 253.96 400.5 257.65 401 259.99 401.5 260.68 402 258.87 402.5 254.95 403 250.02 403.5 245.28 404 241.69 404.5 239.98 405 240.29 405.5 241.43 406 243.08 406.5 244.86 407 246.4 407.5 247.42 408 247.59 408.5 246.4 409 244.07 409.5 241.04 410 237.89 410.5 235.14 411 233.28 411.5 232.22 412 231.54 412.5 231.2 413 230.91 413.5 230.3 414 229.18 414.5 227.18 415 222.95 415.5 217.06 416 210.13 416.5 202.76 417 195.75 417.5 190.01 418 186.36 418.5 185.45 419 186.75 419.5 189.61 420 193.89 420.5 199.35 421 205.45 421.5 211.47 422 216.87 422.5 221.46 423 225.17 423.5 227.69 424 228.52 424.5 228.27 425 227.47 425.5 226.23 426 224.58 426.5 222.58 427 220.39 427.5 218.21 428 216.06 428.5 213.86 429 211.6 429.5 209.49 430 207.53 430.5 205.35 431 202.96 431.5 200.41 432 197.86 432.5 195.5 433 193.55 433.5 192.23 434 191.73 434.5 192.66 435 195.97 435.5 201.27 436 208.34 436.5 216.78 437 225.79 437.5 234.43 438 242.19 438.5 248.94 439 254.44 439.5 258.01 440 258.89 440.5 258.29 441 257.31 441.5 256.12 442 254.5 442.5 252.25 443 249.62 443.5 246.97 444 244.42 444.5 241.86 445 239.35 445.5 237.18 446 235.44 446.5 233.46 447 231.03 447.5 228.42 448 226.11 448.5 224.11 449 221.93 449.5 219.27 450 216.58 450.5 214.54 451 213.33 451.5 212.5 452 211.68 452.5 211 453 210.93 453.5 211.66 454 212.97 454.5 214.7 455 216.8 455.5 219.15 456 221.56 456.5 224.02 457 226.7 457.5 229.62 458 232.4 458.5 234.64 459 236.38 459.5 237.89 460 239.19 460.5 239.89 461 239.78 461.5 239.32 462 238.88 462.5 238.38 463 237.55 463.5 236.42 464 235.39 464.5 234.66 465 234 465.5 233.15 466 232.29 466.5 231.88 467 232.02 467.5 232.45 468 233.06 468.5 233.91 469 235.36 469.5 237.4 470 239.46 470.5 240.87 471 241.42 471.5 241.26 472 240.8 472.5 240.09 473 238.89 473.5 237.09 474 234.9 474.5 232.68 475 230.62 475.5 228.6 476 226.25 476.5 222.3 477 216.9 477.5 210.5 478 203.43 478.5 195.99 479 188.55 479.5 181.43 480 174.73 480.5 168.6 481 163.41 481.5 159.77 482 158.08 482.5 158.24 483 159.27 483.5 161.14 484 163.97 484.5 167.65 485 171.86 485.5 176.5 486 181.74 486.5 187.59 487 193.76 487.5 200.03 488 206.6 488.5 213.74 489 221.2 489.5 228.31 490 234.75 490.5 240.97 491 247.49 491.5 254.22 492 260.53 492.5 265.97 493 270.68 493.5 274.97 494 278.84 494.5 282.07 495 284.48 495.5 285.97 496 286.46 496.5 285.9 497 284.45 497.5 282.22 498 279.17 498.5 275.31 499 270.91 499.5 266.39 500 261.75 500.5 256.52 501 250.37 501.5 243.68 502 237.17 502.5 231.11 503 225.17 503.5 218.97 504 212.71 504.5 206.86 505 201.63 505.5 196.85 506 192.36 506.5 188.28 507 184.79 507.5 182.01 508 179.96 508.5 178.77 509 178.6 509.5 179.05 510 179.9 510.5 180.98 511 182.12 511.5 183.22 512 184.3 512.5 185.46 513 186.78 513.5 188.13 514 189.38 514.5 190.5 515 191.5 515.5 192.25 516 192.68 516.5 192.89 517 193.2 517.5 193.82 518 194.58 518.5 195.22 519 196.38 519.5 198.66 520 202.18 520.5 206.59 521 211.41 521.5 216.48 522 222.02 522.5 228.12 523 234.6 523.5 241.16 524 247.72 524.5 254.29 525 260.84 525.5 267.16 526 273.06 526.5 278.45 527 283.34 527.5 287.76 528 291.61 528.5 294.6 529 296.5 529.5 297.31 530 297.19 530.5 296.13 531 293.93 531.5 290.38 532 285.78 532.5 280.73 533 275.49 533.5 269.72 534 263.07 534.5 255.74 535 248.34 535.5 241.11 536 233.83 536.5 226.33 537 218.88 537.5 211.9 538 205.42 538.5 199.29 539 193.57 539.5 188.63 540 184.63 540.5 181.39 541 178.87 541.5 177.38 542 177.26 542.5 178.12 543 179.49 543.5 181.28 544 183.74 544.5 186.87 545 190.22 545.5 193.34 546 196.21 546.5 199.1 547 202.04 547.5 204.76 548 206.96 548.5 208.56 549 209.53 549.5 210.14 550 210.53 550.5 210.84 551 211.22 551.5 211.67 552 212.06 552.5 212.33 553 212.62 553.5 212.98 554 213.37 554.5 213.81 555 214.52 555.5 215.71 556 217.21 556.5 218.75 557 220.28 557.5 221.93 558 223.84 558.5 225.96 559 228.16 559.5 230.37 560 232.54 560.5 234.64 561 236.62 561.5 238.46 562 240.17 562.5 241.71 563 242.99 563.5 243.99 564 244.78 564.5 245.36 565 245.65 565.5 245.47 566 244.78 566.5 243.69 567 242.46 567.5 241.36 568 240.39 568.5 239.37 569 238.17 569.5 236.96 570 236.15 570.5 235.94 571 236.07 571.5 235.95 572 235.55 572.5 235.15 573 235.04 573.5 235.22 574 235.44 574.5 235.49 575 235.28 575.5 234.84 576 234.06 576.5 233.1 577 232.13 577.5 231.01 578 229.54 578.5 227.85 579 226.41 579.5 225.62 580 225.44 580.5 225.54 581 225.43 581.5 225.26 582 225.21 582.5 225.26 583 225.31 583.5 225.3 584 225.3 584.5 225.3 585 225.28 585.5 225.06 586 224.48 586.5 223.56 587 222.31 587.5 220.84 588 219.26 588.5 217.57 589 215.7 589.5 213.74 590 211.91 590.5 210.37 591 209.06 591.5 207.87 592 206.62 592.5 205.25 593 203.8 593.5 202.35 594 201.06 594.5 200.14 595 199.52 595.5 198.9 596 198.2 596.5 197.9 597 198.98 597.5 201.28 598 204.11 598.5 207.1 599 210.4 599.5 214.14 600 217.89 600.5 220.95 601 223.07 601.5 224.47 602 225.16 602.5 225.1 603 224.43 603.5 223.34 604 222.28 604.5 221.35 605 220.24 605.5 218.81 606 217.38 606.5 216.39 607 215.88 607.5 215.63 608 215.61 608.5 216.07 609 217.21 609.5 218.78 610 220.3 610.5 221.58 611 222.9 611.5 224.61 612 226.68 612.5 228.81 613 230.81 613.5 232.78 614 234.9 614.5 237.06 615 238.92 615.5 240.31 616 241.41 616.5 242.47 617 243.49 617.5 244.21 618 244.49 618.5 244.27 619 243.39 619.5 241.77 620 239.3 620.5 236.2 621 232.93 621.5 229.73 622 226.39 622.5 222.56 623 218.29 623.5 213.96 624 209.92 624.5 206.28 625 203.01 625.5 200.13 626 197.7 626.5 195.72 627 194.28 627.5 193.54 628 193.6 628.5 194.38 629 195.78 629.5 198 630 201.22 630.5 205.21 631 209.35 631.5 213.26 632 217.18 632.5 221.45 633 225.98 633.5 230.33 634 234.31 634.5 238.15 635 241.92 635.5 245.16 636 247.4 636.5 248.68 637 249.47 637.5 249.88 638 249.8 638.5 248.97 639 247.6 639.5 246.15 640 244.7 640.5 242.93 641 240.74 641.5 238.46 642 236.4 642.5 234.42 643 232.24 643.5 229.98 644 228.05 644.5 226.62 645 225.34 645.5 223.89 646 222.51 646.5 221.77 647 221.91 647.5 222.54 648 223.12 648.5 223.54 649 224.1 649.5 225.04 650 226.31 650.5 227.67 651 228.91 651.5 230.04 652 231.17 652.5 232.38 653 233.6 653.5 234.67 654 235.46 654.5 235.94 655 236.19 655.5 236.31 656 236.3 656.5 236.1 657 235.59 657.5 234.74 658 233.63 658.5 232.38 659 231.1 659.5 229.8 660 228.41 660.5 226.91 661 225.38 661.5 223.9 662 222.47 662.5 221.01 663 219.51 663.5 218.1 664 216.91 664.5 215.91 665 215.01 665.5 214.19 666 213.56 666.5 213.26 667 213.36 667.5 213.82 668 214.49 668.5 215.18 669 215.81 669.5 216.48 670 217.48 670.5 218.98 671 220.83 671.5 222.61 672 224.05 672.5 225.24 673 226.52 673.5 228.05 674 229.76 674.5 231.38 675 232.69 675.5 233.64 676 234.36 676.5 235.07 677 235.86 677.5 236.5 678 236.68 678.5 236.16 679 235.21 679.5 234.21 680 233.09 680.5 231.52 681 229.5" stroke="#333333" stroke-width="1.6" fill="none" stroke-linejoin="round" transform="translate(0 -0.4)"/><use href="#ca1p" transform="translate(0 0.8)"/></g>
<g clip-path="url(#ca2)"><path id="ca2p" d="M45 365.2 45.5 365.25 46 365.29 46.5 365.33 47 365.37 47.5 365.41 48 365.45 48.5 365.48 49 365.51 49.5 365.54 50 365.57 50.5 365.6 51 365.63 51.5 365.65 52 365.67 52.5 365.69 53 365.71 53.5 365.73 54 365.75 54.5 365.77 55 365.78 55.5 365.8 56 365.81 56.5 365.82 57 365.83 57.5 365.84 58 365.85 58.5 365.86 59 365.86 59.5 365.87 60 365.87 60.5 365.88 61 365.88 61.5 365.89 62 365.89 62.5 365.89 63 365.89 63.5 365.9 64 365.9 64.5 365.9 65 365.9 65.5 365.9 66 365.9 66.5 365.9 67 365.9 67.5 365.9 68 365.9 68.5 365.89 69 365.88 69.5 365.86 70 365.84 70.5 365.82 71 365.79 71.5 365.76 72 365.73 72.5 365.69 73 365.65 73.5 365.61 74 365.57 74.5 365.52 75 365.48 75.5 365.43 76 365.38 76.5 365.32 77 365.27 77.5 365.22 78 365.17 78.5 365.11 79 365.06 79.5 365 80 364.95 80.5 364.9 81 364.84 81.5 364.79 82 364.74 82.5 364.69 83 364.64 83.5 364.58 84 364.52 84.5 364.46 85 364.39 85.5 364.32 86 364.24 86.5 364.17 87 364.09 87.5 364 88 363.92 88.5 363.84 89 363.75 89.5 363.66 90 363.57 90.5 363.48 91 363.39 91.5 363.3 92 363.21 92.5 363.12 93 363.03 93.5 362.94 94 362.85 94.5 362.77 95 362.68 95.5 362.6 96 362.52 96.5 362.44 97 362.36 97.5 362.29 98 362.22 98.5 362.15 99 362.09 99.5 362.03 100 361.97 100.5 361.92 101 361.88 101.5 361.84 102 361.8 102.5 361.77 103 361.74 103.5 361.72 104 361.71 104.5 361.7 105 361.7 105.5 361.71 106 361.74 106.5 361.77 107 361.82 107.5 361.87 108 361.94 108.5 362.01 109 362.09 109.5 362.18 110 362.27 110.5 362.37 111 362.47 111.5 362.57 112 362.68 112.5 362.79 113 362.9 113.5 363.01 114 363.12 114.5 363.23 115 363.34 115.5 363.45 116 363.55 116.5 363.64 117 363.74 117.5 363.83 118 363.93 118.5 364.04 119 364.15 119.5 364.26 120 364.38 120.5 364.5 121 364.62 121.5 364.75 122 364.87 122.5 365 123 365.14 123.5 365.27 124 365.41 124.5 365.54 125 365.68 125.5 365.81 126 365.95 126.5 366.09 127 366.22 127.5 366.36 128 366.49 128.5 366.63 129 366.76 129.5 366.89 130 367.01 130.5 367.14 131 367.26 131.5 367.38 132 367.49 132.5 367.6 133 367.71 133.5 367.81 134 367.91 134.5 368 135 368.09 135.5 368.17 136 368.24 136.5 368.31 137 368.37 137.5 368.43 138 368.48 138.5 368.52 139 368.55 139.5 368.57 140 368.59 140.5 368.6 141 368.6 141.5 368.59 142 368.58 142.5 368.57 143 368.55 143.5 368.53 144 368.51 144.5 368.48 145 368.45 145.5 368.41 146 368.37 146.5 368.33 147 368.28 147.5 368.24 148 368.19 148.5 368.13 149 368.08 149.5 368.02 150 367.96 150.5 367.9 151 367.83 151.5 367.77 152 367.7 152.5 367.63 153 367.56 153.5 367.49 154 367.42 154.5 367.35 155 367.28 155.5 367.2 156 367.13 156.5 367.05 157 366.98 157.5 366.9 158 366.83 158.5 366.75 159 366.68 159.5 366.6 160 366.53 160.5 366.46 161 366.39 161.5 366.32 162 366.25 162.5 366.18 163 366.11 163.5 366.05 164 365.99 164.5 365.92 165 365.86 165.5 365.8 166 365.74 166.5 365.67 167 365.61 167.5 365.54 168 365.47 168.5 365.4 169 365.33 169.5 365.25 170 365.18 170.5 365.1 171 365.03 171.5 364.95 172 364.87 172.5 364.8 173 364.72 173.5 364.64 174 364.56 174.5 364.49 175 364.41 175.5 364.35 176 364.28 176.5 364.19 177 364.08 177.5 363.98 178 363.94 178.5 363.93 179 363.86 179.5 363.7 180 363.6 180.5 363.67 181 363.75 181.5 363.61 182 363.29 182.5 363.1 183 363.23 183.5 363.48 184 363.5 184.5 363.27 185 363.06 185.5 363.02 186 362.98 186.5 362.81 187 362.66 187.5 362.77 188 363.14 188.5 363.45 189 363.43 189.5 363.07 190 362.58 190.5 362.26 191 362.29 191.5 362.59 192 362.92 192.5 363.06 193 362.99 193.5 362.86 194 362.76 194.5 362.69 195 362.64 195.5 362.65 196 362.67 196.5 362.58 197 362.4 197.5 362.36 198 362.59 198.5 362.9 199 362.94 199.5 362.69 200 362.48 200.5 362.51 201 362.63 201.5 362.6 202 362.5 202.5 362.57 203 362.81 203.5 362.88 204 362.61 204.5 362.29 205 362.37 205.5 362.89 206 363.43 206.5 363.55 207 363.18 207.5 362.68 208 362.44 208.5 362.64 209 363.06 209.5 363.35 210 363.35 210.5 363.25 211 363.35 211.5 363.67 212 363.91 212.5 363.83 213 363.52 213.5 363.24 214 363.15 214.5 363.29 215 363.67 215.5 364.18 216 364.59 216.5 364.68 217 364.52 217.5 364.37 218 364.31 218.5 364.21 219 364.13 219.5 364.39 220 365.09 220.5 365.77 221 365.85 221.5 365.46 222 365.22 222.5 365.34 223 365.35 223.5 364.98 224 364.82 224.5 365.51 225 366.62 225.5 366.94 226 366 226.5 364.81 227 364.52 227.5 365.1 228 365.63 228.5 365.73 229 365.82 229.5 366.17 230 366.28 230.5 365.76 231 365.05 231.5 364.84 232 365.12 232.5 365.2 233 364.84 233.5 364.57 234 364.78 234.5 365.16 235 365.4 235.5 365.62 236 366.23 236.5 367.06 237 367.51 237.5 367.51 238 367.58 238.5 367.85 239 367.72 239.5 366.71 240 365.3 240.5 364.58 241 364.87 241.5 365.33 242 365.13 242.5 364.68 243 364.68 243.5 365.1 244 365.35 244.5 365.17 245 365 245.5 365.15 246 365.34 246.5 365.15 247 364.67 247.5 364.32 248 364.12 248.5 363.79 249 363.24 249.5 362.85 250 362.91 250.5 363.15 251 363.09 251.5 362.66 252 362.22 252.5 362.1 253 362.23 253.5 362.4 254 362.54 254.5 362.68 255 362.76 255.5 362.71 256 362.62 256.5 362.73 257 363.16 257.5 363.71 258 364.09 258.5 364.17 259 364.1 259.5 364.07 260 364.12 260.5 364.19 261 364.25 261.5 364.29 262 364.26 262.5 364.13 263 363.95 263.5 363.84 264 363.86 264.5 363.81 265 363.43 265.5 362.8 266 362.35 266.5 362.39 267 362.69 267.5 362.85 268 362.89 268.5 363.3 269 364.25 269.5 365.19 270 365.49 270.5 365.31 271 365.42 271.5 366.11 272 366.79 272.5 366.84 273 366.53 273.5 366.53 274 366.93 274.5 367.07 275 366.52 275.5 365.71 276 365.24 276.5 364.97 277 364.37 277.5 363.48 278 363.06 278.5 363.55 279 364.36 279.5 364.55 280 364.06 280.5 363.56 281 363.58 281.5 363.91 282 364.02 282.5 363.78 283 363.47 283.5 363.36 284 363.56 284.5 363.99 285 364.36 285.5 364.48 286 364.29 286.5 364.25 287 364.9 287.5 366.17 288 367.21 288.5 367.32 289 366.68 289.5 366.07 290 365.99 290.5 366.18 291 366.12 291.5 365.69 292 365.24 292.5 365.11 293 365.56 293.5 366.34 294 367.19 294.5 367.98 295 368.69 295.5 369.32 296 369.58 296.5 369.13 297 367.77 297.5 365.82 298 364.07 298.5 363.25 299 363.48 299.5 364.24 300 365.24 300.5 366.43 301 367.59 301.5 368.24 302 368.11 302.5 367.45 303 366.8 303.5 366.27 304 365.54 304.5 364.49 305 363.58 305.5 363.41 306 364.07 306.5 365.24 307 366.49 307.5 367.55 308 368.29 308.5 368.72 309 368.99 309.5 369.22 310 369.11 310.5 368.46 311 367.18 311.5 365.49 312 363.92 312.5 363.16 313 363.43 313.5 364.21 314 365.01 314.5 365.34 315 365.19 315.5 364.99 316 365.19 316.5 365.7 317 366.01 317.5 365.54 318 364.5 318.5 363.52 319 362.9 319.5 362.53 320 362.27 320.5 362.19 321 362.4 321.5 363 322 363.95 322.5 365.02 323 365.78 323.5 365.7 324 363.89 324.5 361.77 325 360.99 325.5 362.91 326 366.86 326.5 371.51 327 375.81 327.5 378.34 328 377.57 328.5 374.34 329 370.6 329.5 368.43 330 368.77 330.5 369.44 331 369.59 331.5 369.17 332 366.76 332.5 362.64 333 357.87 333.5 353.74 334 351.94 334.5 353.09 335 356.07 335.5 360.05 336 364.46 336.5 368.84 337 372.55 337.5 374.79 338 374.9 338.5 373.2 339 370.33 339.5 366.75 340 362.72 340.5 358.65 341 355.02 341.5 352.34 342 351.06 342.5 351.32 343 352.7 343.5 354.97 344 357.87 344.5 361.01 345 364.05 345.5 366.7 346 368.74 346.5 369.91 347 369.95 347.5 368.57 348 366.23 348.5 363.51 349 360.94 349.5 359.01 350 358.2 350.5 358.68 351 360.15 351.5 362.4 352 365.11 352.5 367.87 353 370.35 353.5 372.53 354 375.07 354.5 377.65 355 379.82 355.5 381.39 356 382.4 356.5 382.72 357 379.63 357.5 373.59 358 367.04 358.5 362.79 359 361.7 359.5 361.01 360 360.31 360.5 359.5 361 358.76 361.5 358.34 362 358.38 362.5 359.5 363 360.95 363.5 361.75 364 360.73 364.5 358.08 365 354.88 365.5 352.19 366 351.01 366.5 351.19 367 351.89 367.5 353.06 368 354.46 368.5 355.57 369 355.99 369.5 355.77 370 355.67 370.5 355.79 371 355.82 371.5 355.5 372 355.07 372.5 354.99 373 355.34 373.5 355.7 374 355.97 374.5 356.41 375 357.35 375.5 358.99 376 361.08 376.5 363.17 377 364.99 377.5 366.49 378 367.69 378.5 368.53 379 368.84 379.5 368.48 380 367.51 380.5 366.12 381 364.71 381.5 363.77 382 363.67 382.5 364.77 383 367.33 383.5 370.73 384 374.68 384.5 379.05 385 383.42 385.5 387.05 386 389.16 386.5 389.36 387 388.78 387.5 387.93 388 386.84 388.5 385.53 389 384 389.5 382.27 390 380.29 390.5 378.06 391 375.78 391.5 373.77 392 372.08 392.5 370.21 393 367.91 393.5 365.22 394 362.45 394.5 359.92 395 357.75 395.5 355.89 396 354.35 396.5 353.13 397 352.06 397.5 351.02 398 349.94 398.5 348.76 399 347.38 399.5 345.76 400 343.91 400.5 342.08 401 340.62 401.5 339.7 402 339.23 402.5 339.71 403 341.89 403.5 345.33 404 349.14 404.5 352.23 405 353.87 405.5 354.02 406 354.08 406.5 354.2 407 353.86 407.5 353.04 408 352.71 408.5 355.1 409 359.38 409.5 363.66 410 366.44 410.5 366.91 411 365.52 411.5 363.4 412 361.17 412.5 359.63 413 359.7 413.5 361.38 414 364.53 414.5 368.67 415 373.23 415.5 377.76 416 381.99 416.5 385.83 417 389.17 417.5 391.77 418 393.15 418.5 392.9 419 391.41 419.5 389.29 420 387.17 420.5 385.44 421 384.31 421.5 384.04 422 384.88 422.5 386.59 423 388.65 423.5 390.27 424 390.66 424.5 390.09 425 389.14 425.5 388.04 426 386.69 426.5 384.93 427 382.81 427.5 380.63 428 378.56 428.5 376.51 429 374.28 429.5 372 430 369.95 430.5 368.22 431 366.12 431.5 363.52 432 360.78 432.5 358.38 433 356.57 433.5 355.31 434 354.64 434.5 354.66 435 355.14 435.5 355.96 436 356.91 436.5 357.96 437 359.21 437.5 360.55 438 361.74 438.5 362.67 439 363.45 439.5 364.08 440 364.3 440.5 364.12 441 363.83 441.5 363.8 442 364.09 442.5 364.37 443 364.34 443.5 363.82 444 362.54 444.5 360.72 445 358.44 445.5 355.94 446 353.62 446.5 351.63 447 349.87 447.5 348.46 448 347.87 448.5 348.33 449 349.56 449.5 351.07 450 352.67 450.5 354.43 451 356.26 451.5 357.77 452 358.66 452.5 359.02 453 359.03 453.5 358.74 454 357.93 454.5 356.66 455 355.33 455.5 354.12 456 352.69 456.5 350.73 457 348.46 457.5 346.44 458 344.91 458.5 343.63 459 342.37 459.5 341.25 460 340.53 460.5 340.31 461 340.53 461.5 341.19 462 341.99 462.5 342.63 463 342.9 463.5 342.3 464 340.64 464.5 337.93 465 334.24 465.5 330.22 466 326.91 466.5 324.99 467 324.43 467.5 324.74 468 325.54 468.5 327.27 469 330.11 469.5 333.56 470 337.08 470.5 340.68 471 344.72 471.5 349.09 472 353.22 472.5 357.43 473 362.59 473.5 368.93 474 376.2 474.5 383.75 475 391.21 475.5 398.74 476 406.59 476.5 414.59 477 422.16 477.5 428.82 478 434.42 478.5 439.04 479 442.62 479.5 444.96 480 445.77 480.5 445.41 481 444.45 481.5 442.91 482 440.72 482.5 437.83 483 434.36 483.5 430.52 484 426.41 484.5 421.92 485 416.87 485.5 411.37 486 405.72 486.5 400.15 487 394.58 487.5 388.74 488 382.51 488.5 376.09 489 369.79 489.5 363.76 490 357.9 490.5 352.06 491 346.23 491.5 340.62 492 335.47 492.5 330.77 493 326.28 493.5 321.83 494 317.62 494.5 314.11 495 311.54 495.5 309.67 496 308.14 496.5 306.91 497 306.31 497.5 306.42 498 307 498.5 307.79 499 308.68 499.5 309.66 500 310.76 500.5 311.97 501 313.32 501.5 315.22 502 317.58 502.5 320.22 503 323.22 503.5 326.8 504 330.98 504.5 335.44 505 339.87 505.5 344.27 506 348.91 506.5 353.87 507 358.93 507.5 363.83 508 368.52 508.5 373.07 509 377.49 509.5 381.74 510 385.8 510.5 389.56 511 392.81 511.5 395.42 512 397.46 512.5 399.14 513 400.41 513.5 400.99 514 400.65 514.5 399.48 515 397.85 515.5 395.79 516 393.24 516.5 390.43 517 387.97 517.5 386.27 518 385.35 518.5 385.09 519 385.11 519.5 385.35 520 385.84 520.5 386.32 521 386.56 521.5 386.58 522 386.34 522.5 385.59 523 384.26 523.5 382.32 524 379.95 524.5 377.35 525 374.69 525.5 372 526 369.21 526.5 366.24 527 363.22 527.5 360.45 528 358.14 528.5 356 529 353.45 529.5 350.57 530 347.77 530.5 345.27 531 342.8 531.5 340.04 532 337.07 532.5 334.32 533 332.04 533.5 330.04 534 328.12 534.5 326.37 535 325.03 535.5 324.2 536 323.83 536.5 324.07 537 325.14 537.5 326.89 538 329.01 538.5 331.33 539 334.05 539.5 337.41 540 341.3 540.5 345.44 541 349.74 541.5 354.29 542 359.06 542.5 363.77 543 368.31 543.5 372.88 544 377.71 544.5 382.59 545 387.07 545.5 390.92 546 394.39 546.5 397.78 547 401.1 547.5 403.99 548 406.15 548.5 407.59 549 408.5 549.5 409 550 408.9 550.5 407.93 551 405.99 551.5 403.4 552 400.63 552.5 397.88 553 394.92 553.5 391.49 554 387.79 554.5 384.28 555 381.15 555.5 378.13 556 374.97 556.5 371.84 557 368.73 557.5 365.75 558 362.66 558.5 359.23 559 355.57 559.5 351.94 560 348.42 560.5 344.99 561 341.68 561.5 338.6 562 335.85 562.5 333.41 563 331.3 563.5 329.55 564 328.18 564.5 327.24 565 326.93 565.5 327.27 566 328.08 566.5 329.03 567 329.97 567.5 331.06 568 332.45 568.5 333.96 569 335.29 569.5 336.81 570 339.13 570.5 342.23 571 345.76 571.5 349.45 572 353.49 572.5 358.07 573 362.9 573.5 367.44 574 371.55 574.5 375.66 575 380.04 575.5 384.38 576 388.11 576.5 391.06 577 393.47 577.5 395.53 578 397.11 578.5 397.9 579 397.89 579.5 397.43 580 396.6 580.5 395.66 581 394.88 581.5 394.18 582 393.11 582.5 391.43 583 389.52 583.5 387.92 584 386.67 584.5 385.26 585 383.45 585.5 381.08 586 378.09 586.5 374.45 587 369.97 587.5 364.85 588 359.6 588.5 354.44 589 349.2 589.5 343.83 590 338.7 590.5 334.17 591 330.15 591.5 326.47 592 323.38 592.5 321.41 593 320.76 593.5 321.1 594 321.97 594.5 323.46 595 325.67 595.5 328.26 596 330.78 596.5 333.16 597 335.59 597.5 338.73 598 342.56 598.5 346.86 599 351.71 599.5 357.06 600 362.5 600.5 367.62 601 372.51 601.5 377.38 602 382.05 602.5 386.02 603 389.07 603.5 391.37 604 392.89 604.5 393.25 605 392.66 605.5 391.49 606 390.27 606.5 389.13 607 387.83 607.5 386.23 608 384.48 608.5 382.65 609 380.53 609.5 378.13 610 375.85 610.5 374.14 611 372.71 611.5 370.66 612 367.88 612.5 364.94 613 362.26 613.5 359.7 614 356.93 614.5 354.1 615 351.64 615.5 349.71 616 348.16 616.5 346.95 617 346.41 617.5 346.52 618 346.61 618.5 346.48 619 346.36 619.5 346.59 620 347 620.5 347.1 621 346.8 621.5 346.62 622 346.98 622.5 347.55 623 347.68 623.5 347.33 624 347.17 624.5 347.64 625 348.35 625.5 348.82 626 349.34 626.5 350.4 627 352.21 627.5 354.29 628 356.04 628.5 357.51 629 359.19 629.5 361.24 630 363.1 630.5 364.5 631 365.62 631.5 366.92 632 368.55 632.5 370.19 633 371.51 633.5 372.62 634 373.84 634.5 375.15 635 376.14 635.5 376.58 636 376.68 636.5 376.74 637 376.96 637.5 377.08 638 376.95 638.5 376.78 639 376.76 639.5 376.8 640 376.74 640.5 376.62 641 376.61 641.5 376.74 642 376.79 642.5 376.64 643 376.43 643.5 376.36 644 376.37 644.5 376.25 645 375.8 645.5 375.19 646 374.65 646.5 374.1 647 373.29 647.5 372.05 648 370.51 648.5 369.02 649 367.8 649.5 366.82 650 365.8 650.5 364.6 651 363.38 651.5 362.21 652 361.07 652.5 359.64 653 357.78 653.5 355.83 654 354.23 654.5 352.97 655 351.65 655.5 350.11 656 348.65 656.5 347.58 657 346.76 657.5 345.88 658 345.04 658.5 344.67 659 344.91 659.5 345.28 660 345.48 660.5 345.77 661 346.53 661.5 347.61 662 348.52 662.5 349.13 663 349.89 663.5 351.14 664 352.65 664.5 353.96 665 355 665.5 356.05 666 357.25 666.5 358.48 667 359.68 667.5 361.22 668 363.15 668.5 365.18 669 367.14 669.5 369.21 670 371.65 670.5 374.35 671 376.94 671.5 379.29 672 381.59 672.5 383.95 673 386.18 673.5 388.16 674 389.98 674.5 391.73 675 393.16 675.5 393.95 676 394.21 676.5 394.28 677 394.05 677.5 393.21 678 391.66 678.5 389.76 679 387.9 679.5 385.4 680 381.58 680.5 376.89 681 371.98" stroke="#3c3c3c" stroke-width="1.5" fill="none" stroke-linejoin="round" transform="translate(0 -0.4)"/><use href="#ca2p" transform="translate(0 0.8)"/></g>
<g clip-path="url(#cb0)"><path id="cb0p" d="M761.6 99.41 762.4 99.82 763.2 99.79 764 99.3 764.8 99.4 765.6 99.38 766.4 99.76 767.2 99.63 768 99.94 768.8 99.23 769.6 100.33 770.4 99.91 771.2 100.23 772 100.07 772.8 100.09 773.6 100.43 774.4 100.64 775.2 100.49 776 100.69 776.8 101.15 777.6 100.9 778.4 100.92 779.2 101.69 780 101.55 780.8 101.31 781.6 101.73 782.4 101.86 783.2 101.54 784 101.24 784.8 101.43 785.6 101.41 786.4 100.85 787.2 100.58 788 100.92 788.8 101.03 789.6 100.75 790.4 101.04 791.2 101.24 792 100.92 792.8 100.79 793.6 101.21 794.4 101.25 795.2 101.58 796 100.94 796.8 101.21 797.6 101.24 798.4 101.07 799.2 101.75 800 102.04 800.8 101.85 801.6 102.7 802.4 102.77 803.2 102.97 804 103.18 804.8 103.63 805.6 103.25 806.4 104.13 807.2 104.44 808 104.03 808.8 104.97 809.6 105.09 810.4 105.69 811.2 105.59 812 105.98 812.8 106.33 813.6 106.18 814.4 106.81 815.2 106.77 816 107.08 816.8 106.87 817.6 107.41 818.4 107.28 819.2 107.01 820 107.16 820.8 107.22 821.6 107.21 822.4 106.01 823.2 106.53 824 106.17 824.8 105.77 825.6 105.27 826.4 105.74 827.2 104.79 828 105.17 828.8 105.26 829.6 104.27 830.4 104.54 831.2 104.11 832 104.45 832.8 104.71 833.6 104.75 834.4 103.49 835.2 103.74 836 104.01 836.8 104.17 837.6 103.73 838.4 103.29 839.2 103.53 840 103.37 840.8 103.25 841.6 103.04 842.4 103.35 843.2 103.3 844 103.17 844.8 103.18 845.6 102.98 846.4 103.42 847.2 104.18 848 104.07 848.8 104.04 849.6 105.24 850.4 105.39 851.2 106.25 852 106.03 852.8 106.25 853.6 106.3 854.4 107.44 855.2 108.08 856 107.26 856.8 107.45 857.6 107.88 858.4 107.45 859.2 107.61 860 107.57 860.8 107.71 861.6 107.96 862.4 107.6 863.2 107.83 864 107.39 864.8 107.57 865.6 106.78 866.4 106.93 867.2 107.54 868 107.07 868.8 107.35 869.6 107.27 870.4 107.41 871.2 107.08 872 106.91 872.8 106.28 873.6 105.76 874.4 105.37 875.2 105.03 876 104.4 876.8 104.12 877.6 103.79 878.4 103.42 879.2 102.78 880 101.85 880.8 101.97 881.6 101.65 882.4 101.53 883.2 101.05 884 100.38 884.8 100.03 885.6 100.52 886.4 99.8 887.2 99.8 888 99.58 888.8 98.42 889.6 98.55 890.4 98.39 891.2 98.31 892 98.26 892.8 98.16 893.6 98.17 894.4 97.68 895.2 98.1 896 97.96 896.8 98.25 897.6 98.12 898.4 98.49 899.2 98.6 900 98.5 900.8 98.57 901.6 98.57 902.4 98.48 903.2 98.7 904 98.84 904.8 99.42 905.6 99.65 906.4 100.2 907.2 99.99 908 100.98 908.8 100.76 909.6 100.98 910.4 101.33 911.2 101.42 912 101.87 912.8 101.8 913.6 101.84 914.4 102.09 915.2 102.91 916 102.7 916.8 102.5 917.6 103 918.4 102.67 919.2 103.8 920 102.92 920.8 103.62 921.6 103.72 922.4 103.19 923.2 103.76 924 103.99 924.8 103.84 925.6 103.77 926.4 103.96 927.2 103.71 928 103.73 928.8 103.55 929.6 103.74 930.4 103.22 931.2 103.69 932 103.24 932.8 103 933.6 103.37 934.4 103.7 935.2 103.41 936 102.9 936.8 103.18 937.6 102.76 938.4 102.78 939.2 102.77 940 101.97 940.8 102.64 941.6 102.2 942.4 102.22 943.2 101.88 944 101.76 944.8 101.8 945.6 102.19 946.4 102.3 947.2 101.64 948 101.82 948.8 101.26 949.6 100.62 950.4 101.09 951.2 101.03 952 100.64 952.8 100.74 953.6 100.71 954.4 100.19 955.2 99.94 956 100.26 956.8 100.24 957.6 100.21 958.4 100.76 959.2 101.24 960 100.95 960.8 101.71 961.6 102.26 962.4 102.68 963.2 103.27 964 103.3 964.8 104.05 965.6 104.77 966.4 104.69 967.2 104.54 968 105.2 968.8 105.69 969.6 105.71 970.4 105.72 971.2 106.63 972 106.07 972.8 106.86 973.6 106.96 974.4 106.84 975.2 107.79 976 107.73 976.8 107.45 977.6 108.14 978.4 107.96 979.2 107.62 980 108.05 980.8 108.37 981.6 108.46" stroke="#333333" stroke-width="1.6" fill="none" stroke-linejoin="round" transform="translate(0 -0.4)"/><use href="#cb0p" transform="translate(0 0.8)"/></g>
<path clip-path="url(#cb0)" d="M981.6 108.46 982.2 95.84 982.65 122.17 983.1 122.48 983.55 103.53 984 112.85 984.45 115.54 984.9 115.11 985.35 113.15 985.8 102.26 986.25 100.55 986.7 110.16 987.15 105.9 987.6 105.84 988.05 105.91 988.5 103.46 988.95 104.26 989.4 104.05 989.85 107.17 990.3 102.74 990.75 110.99 991.2 105.31 991.65 98.73 992.1 109.28 992.55 107.5 993 112.37 993.45 100.32 993.9 105.59 994.35 113.01 994.8 96.97 995.25 103.83 995.7 106.89 996.15 107.52 996.6 100.53 997.05 101.43 997.5 110.3 997.95 109.02 998.4 115.93 998.85 103.1 999.3 102.08 999.75 111.88 1000.2 96.58 1000.65 100.01 1001.1 106.52 1001.55 105.91 1002 106.96 1002.45 98.8 1002.9 95.74 1003.35 100.38 1003.8 118.63 1004.25 112.01 1004.7 97.27 1005.15 102.5 1005.6 99.97 1006.05 100.01 1006.5 98.95 1006.95 104.34 1007.4 103.56 1007.85 101.58 1008.3 103.02 1008.75 101.3 1009.2 104.95 1009.65 106.46 1010.1 101.65 1010.55 95.93 1011 105.23 1011.45 101.93 1011.9 102.05 1012.35 99.28 1012.8 99.78 1013.25 100.24 1013.7 89.51 1014.15 108.64 1014.6 104.08 1015.05 100.38 1015.5 105.69 1015.95 107.52 1016.4 108.95 1016.85 96.68 1017.3 99.94 1017.75 95.61 1018.2 92.79 1018.65 95.24 1019.1 101.59 1019.55 99.85 1020 102.73 1020.45 113.58 1020.9 107.49 1021.35 103.75 1021.8 100.89 1022.25 101.2 1022.7 98.82 1023.15 102.68 1023.6 98.3 1024.05 95.96 1024.5 100.78 1024.95 100.03 1025.4 107.15 1025.85 104.4 1026.3 103.81 1026.75 99.25 1027.2 90.84 1027.65 94.94 1028.1 105.09 1028.55 100.84 1029 100.9 1029.45 102.42 1029.9 95.63 1030.35 103.79 1030.8 106.09 1031.25 110.24 1031.7 102.5 1032.15 93.11 1032.6 90.86 1033.05 101.58 1033.5 111.92 1033.95 102.07 1034.4 110.97 1034.85 105.58 1035.3 99.3 1035.75 93.53 1036.2 91.92 1036.65 102.72 1037.1 97.68 1037.55 104.82 1038 104.84 1038.45 102.01 1038.9 105.55 1039.35 100.74 1039.8 98.31 1040.25 103.72 1040.7 108.16 1041.15 114.14 1041.6 112.22 1042.05 106.29 1042.5 110.02 1042.95 102.76 1043.4 148.25 1043.85 148.62 1044.3 105.86 1044.75 8.34 1045.2 7 1045.65 112.73 1046.1 134.56 1046.55 135.58 1047 135.54 1047.45 61.85 1047.9 61.04 1048.35 79.97 1048.8 35.76 1049.25 39.31 1049.7 125.64 1050.15 147.42 1050.6 150.33 1051.05 127.54 1051.5 65.58 1051.95 90.87 1052.4 84.82 1052.85 28.32 1053.3 30.84 1053.75 97.6 1054.2 144.04 1054.65 141.68 1055.1 83.23 1055.55 103.41 1056 97.61 1056.45 121.38 1056.9 122.97 1057.35 77.03 1057.8 76.95 1058.25 103.92 1058.7 124.82 1059.15 125.1 1059.6 79.87 1060.05 128.52 1060.5 130.71 1060.95 106.78 1061.4 117.68 1061.85 81.82 1062.3 82.27 1062.75 104 1063.2 111.22 1063.65 117.01 1064.1 121.35 1064.55 121.5 1065 94.47 1065.45 104.8 1065.9 83.12 1066.35 83.12 1066.8 101.81 1067.25 122.38 1067.7 124.16 1068.15 108.23 1068.6 92.75 1069.05 59.31 1069.5 59.76 1069.95 99.99 1070.4 108.31 1070.85 118.14 1071.3 117.19 1071.75 101.01 1072.2 111.09 1072.65 98.75 1073.1 101.54 1073.55 103.74 1074 87.42 1074.45 112.73 1074.9 111.62 1075.35 110.76 1075.8 115.22 1076.25 83.43 1076.7 83.16 1077.15 98.91 1077.6 113.72 1078.05 111.39 1078.5 114.01 1078.95 105.28 1079.4 98 1079.85 103.84 1080.3 96.83 1080.75 95.94 1081.2 94.96 1081.65 113.2 1082.1 116 1082.55 111.58 1083 88.26 1083.45 86.61 1083.9 85.18 1084.35 83.02 1084.8 95.28 1085.25 107.8 1085.7 111.92 1086.15 121.72 1086.6 114.97 1087.05 103.31 1087.5 105.57 1087.95 101.54 1088.4 130.51 1088.85 130.7 1089.3 107.67 1089.75 101.42 1090.2 92.79 1090.65 105.34 1091.1 105.69 1091.55 107.42 1092 103.73 1092.45 103.31 1092.9 106.6 1093.35 103.33 1093.8 109.83 1094.25 124.66 1094.7 125.38 1095.15 109.34 1095.6 105.37 1096.05 115.58 1096.5 108.03 1096.95 105.28 1097.4 101.17 1097.85 92.19 1098.3 90.85 1098.75 95.76 1099.2 105.82 1099.65 107.15 1100.1 106.91 1100.55 106.98 1101 96.58 1101.45 103.38 1101.9 112.48 1102.35 105.15 1102.8 106.09 1103.25 104.97 1103.7 99.3 1104.15 96.86 1104.6 96.01 1105.05 103.24 1105.5 116.89 1105.95 115.29 1106.4 116.31 1106.85 116.41 1107.3 99.12 1107.75 93.21 1108.2 92.55 1108.65 98.24 1109.1 100.54 1109.55 103.65 1110 108.5 1110.45 101.78 1110.9 108.22 1111.35 114.2 1111.8 106.72 1112.25 97.86 1112.7 91.01 1113.15 88.24 1113.6 95.14 1114.05 99.89 1114.5 114.14 1114.95 123.4 1115.4 109.52 1115.85 108.81 1116.3 98.95 1116.75 94.57 1117.2 101.66 1117.65 101.58 1118.1 104.69 1118.55 91.93 1119 97.23 1119.45 98.7 1119.9 89.34 1120.35 111.16 1120.8 111.16 1121.25 102.68 1121.7 103.01 1122.15 96.69 1122.6 103.58 1123.05 104.45 1123.5 109.47 1123.95 104.96 1124.4 95.6 1124.85 115.48 1125.3 118.93 1125.75 106.47 1126.2 101.64 1126.65 94.36 1127.1 87.79 1127.55 98.55 1128 109.07 1128.45 102.39 1128.9 106.7 1129.35 99.09 1129.8 82.67 1130.25 95.09 1130.7 99.38 1131.15 96.37 1131.6 112.11 1132.05 109.42 1132.5 105 1132.95 111.36 1133.4 100.87 1133.85 99.83 1134.3 101.33 1134.75 99.38 1135.2 99.63 1135.65 92.07 1136.1 98.35 1136.55 108.53 1137 104.9 1137.45 102.24 1137.9 102.2 1138.35 99.35 1138.8 103.28 1139.25 109.11 1139.7 105.44 1140.15 102.37 1140.6 108.47 1141.05 110.76 1141.5 106.4 1141.95 108.8 1142.4 107.73 1142.85 104.52 1143.3 100.19 1143.75 93.88 1144.2 96 1144.65 96.42 1145.1 101.15 1145.55 101.54 1146 98.49 1146.45 99.05 1146.9 96.56 1147.35 99.62 1147.8 88.8 1148.25 93.71 1148.7 106.69 1149.15 100.35 1149.6 109.13 1150.05 108.98 1150.5 109.31 1150.95 110.04 1151.4 101.06 1151.85 105.94 1152.3 108.94 1152.75 106.8 1153.2 107.73 1153.65 113.71 1154.1 100.3 1154.55 89.57 1155 95.96 1155.45 93.94 1155.9 107.2 1156.35 114.28 1156.8 102.1 1157.25 101.56 1157.7 103.76 1158.15 103.8 1158.6 109.9 1159.05 108.04 1159.5 105.65 1159.95 100.24 1160.4 87.19 1160.85 89.39 1161.3 92.91 1161.75 96.59 1162.2 102.01 1162.65 105.72 1163.1 103.85 1163.55 98.8 1164 106.68 1164.45 103.41 1164.9 99.95 1165.35 108.35 1165.8 107.41 1166.25 102.01 1166.7 102.18 1167.15 108.18 1167.6 107.37 1168.05 106.88 1168.5 109.57 1168.95 103.06 1169.4 101.56 1169.85 103.64 1170.3 103.18 1170.75 105.66 1171.2 102.82 1171.65 95.68 1172.1 94.63 1172.55 101.02 1173 96.56 1173.45 96.79 1173.9 108.18 1174.35 104.24 1174.8 104.68 1175.25 109.33 1175.7 104.91 1176.15 102.84 1176.6 105.16 1177.05 102.63 1177.5 101.82 1177.95 102.03 1178.4 99.98 1178.85 102.71 1179.3 92.95 1179.75 92.79 1180.2 98.69 1180.65 94.51 1181.1 101.42 1181.55 106.52 1182 104.36 1182.45 105 1182.9 109.17 1183.35 107.75 1183.8 103.44 1184.25 98.12 1184.7 102.6 1185.15 108.06 1185.6 108.35 1186.05 117.93 1186.5 113.46 1186.95 104.45 1187.4 100.08 1187.85 102.71 1188.3 102.75 1188.75 97.64 1189.2 104.64 1189.65 101.15 1190.1 97.29 1190.55 92.76 1191 91.07 1191.45 99.78 1191.9 99.03 1192.35 101.01 1192.8 100.07 1193.25 97.14 1193.7 101.89 1194.15 102.46 1194.6 103.82 1195.05 104.61 1195.5 105.6 1195.95 106.81 1196.4 102.41 1196.85 102.75 1197.3 101.66 1197.75 104.01 1198.2 103.83 1198.65 99.26 1199.1 104.45 1199.55 100.6 1200 101.62 1200.45 108.79 1200.9 106.62 1201.35 105.26 1201.8 100.78 1202.25 94.93 1202.7 96.49 1203.15 96.91 1203.6 95.08 1204.05 99.86 1204.5 98 1204.95 97.99 1205.4 100.49 1205.85 97.31 1206.3 97.55 1206.75 94.35 1207.2 94.63 1207.65 95.54 1208.1 97.61 1208.55 99.25 1209 96.26 1209.45 98.96 1209.9 95.05 1210.35 95.2 1210.8 103.6 1211.25 101.07 1211.7 99.37 1212.15 102.82 1212.6 99.38 1213.05 94.57 1213.5 93.65 1213.95 96.77 1214.4 101.77 1214.85 101.43 1215.3 99.91 1215.75 102.02 1216.2 102.54 1216.65 100.59 1217.1 101.51 1217.55 103.19 1218 106.64 1218.45 106.93 1218.9 99.71 1219.35 96.61 1219.8 92.51 1220.25 89.01 1220.7 91.86 1221.15 92.23 1221.6 92.25 1222.05 93.31 1222.5 92.71 1222.95 93.4 1223.4 95.78 1223.85 97.09 1224.3 99.74 1224.75 103.19 1225.2 103.99 1225.65 104.68 1226.1 102.38 1226.55 98.76 1227 102.5 1227.45 104.85 1227.9 99.97 1228.35 97.28 1228.8 97.95 1229.25 98.84 1229.7 99.33 1230.15 98.91 1230.6 98.59 1231.05 98.41 1231.5 96.87 1231.95 97.03 1232.4 99.68 1232.85 99.72 1233.3 97.49 1233.75 94.15 1234.2 94.15 1234.65 97.99 1235.1 98.13 1235.55 100.79 1236 102.59 1236.45 97.51 1236.9 95.51 1237.35 95.76 1237.8 97.48 1238.25 98.42 1238.7 100.4 1239.15 101.77 1239.6 99.13 1240.05 101.62 1240.5 98.33 1240.95 95.53 1241.4 97.97 1241.85 95.53 1242.3 97.98 1242.75 99.13 1243.2 99.97 1243.65 102.2 1244.1 100.53 1244.55 101.35 1245 101.97 1245.45 101.43 1245.9 101.12 1246.35 101.12 1246.8 102.66 1247.25 104.93 1247.7 106.29 1248.15 104.83 1248.6 103.73 1249.05 103.87 1249.5 102.39 1249.95 103.44 1250.4 104.09 1250.85 100.7 1251.3 99.57 1251.75 100.42 1252.2 102.05 1252.65 103.62 1253.1 104.61 1253.55 103.35 1254 100.05 1254.45 100.56 1254.9 103.23 1255.35 107.62 1255.8 110.32 1256.25 108.96 1256.7 107.05 1257.15 103.29 1257.6 100.46 1258.05 101.06 1258.5 105.27 1258.95 106.76 1259.4 106.72 1259.85 108.67 1260.3 106.97 1260.75 108.37 1261.2 107.89 1261.65 105.17 1262.1 106.33 1262.55 104.64 1263 102.89 1263.45 103.78 1263.9 107.3 1264.35 107.89 1264.8 108.38 1265.25 108.39 1265.7 105.19 1266.15 104.65 1266.6 102.33 1267.05 102.39 1267.5 102.09 1267.95 102.15 1268.4 103.84 1268.85 103.16 1269.3 103.89 1269.75 102.94 1270.2 103.87 1270.65 104.29 1271.1 104.8 1271.55 105.19 1272 103.51 1272.45 104.38 1272.9 104.94 1273.35 105.72 1273.8 104.63 1274.25 104.16 1274.7 104.64 1275.15 103.9 1275.6 102.77 1276.05 101.91 1276.5 102.96 1276.95 102.81 1277.4 102.2 1277.85 100.6 1278.3 100.84 1278.75 101.08 1279.2 100.54 1279.65 102.79 1280.1 102.05 1280.55 101.76 1281 102.89 1281.45 102.99 1281.9 103.69 1282.35 104.39 1282.8 104.16 1283.25 102.26 1283.7 102.43 1284.15 102.54 1284.6 100.9 1285.05 100.38 1285.5 100.04 1285.95 100.23 1286.4 100.71 1286.85 101.18 1287.3 101.33 1287.75 102.01 1288.2 101.59 1288.65 100.88 1289.1 103.06 1289.55 103.85 1290 105.18 1290.45 106.75 1290.9 105.99 1291.35 104.74 1291.8 103.11 1292.25 102.59 1292.7 102.3 1293.15 100.8 1293.6 100.31 1294.05 102.1 1294.5 101.67 1294.95 102.4 1295.4 103.78 1295.85 102.78 1296.3 102.65 1296.75 101.61 1297.2 102.98 1297.65 104 1298.1 104.47 1298.55 104.02 1299 101.25 1299.45 100.46 1299.9 100.91 1300.35 102.98 1300.8 103.19 1301.25 102.64 1301.7 100.75 1302.15 100.41 1302.6 104.11 1303.05 106.52 1303.5 108.47 1303.95 108.47 1304.4 106.56 1304.85 103.81 1305.3 103.03 1305.75 103.81 1306.2 103.23 1306.65 102.61 1307.1 102.21 1307.55 101.17 1308 102.52 1308.45 105.79 1308.9 108.01 1309.35 109.61 1309.8 107.08 1310.25 104.51 1310.7 103.1 1311.15 103.62 1311.6 103.71 1312.05 103.7 1312.5 106.87 1312.95 104.72 1313.4 103.86 1313.85 103.64 1314.3 105.93 1314.75 109.18 1315.2 106.62 1315.65 106.9 1316.1 105.46 1316.55 104.12 1317 104.15 1317.45 105.18 1317.9 107.55 1318.35 106.56 1318.8 105.46 1319.25 105.54 1319.7 104.65 1320.15 103.42 1320.6 104.34 1321.05 104.25 1321.5 104.22 1321.95 104.81 1322.4 103.47 1322.85 101.75 1323.3 100.42 1323.75 100.63 1324.2 102.17 1324.65 103.35 1325.1 103.69 1325.55 102.58 1326 100.74 1326.45 101.35 1326.9 101.67 1327.35 102 1327.8 102.01 1328.25 101.52 1328.7 101.97 1329.15 101.84 1329.6 102.62 1330.05 102.3 1330.5 103.18 1330.95 102.59 1331.4 101.68 1331.85 102.7 1332.3 101.83 1332.75 101.13 1333.2 98.91 1333.65 97.94 1334.1 97.94 1334.55 99.17 1335 99.86 1335.45 99.83 1335.9 100.54 1336.35 97.89 1336.8 97.69 1337.25 98.82 1337.7 99.62 1338.15 100.23 1338.6 100.06 1339.05 99.04 1339.5 98.28 1339.95 99.59 1340.4 99.47 1340.85 101.03 1341.3 101.99 1341.75 101.21 1342.2 101.3 1342.65 100.74 1343.1 99.37 1343.55 98.82 1344 99.3 1344.45 98.96 1344.9 99.4 1345.35 98.96 1345.8 98.16 1346.25 97.57 1346.7 97.1 1347.15 96.67 1347.6 96.24 1348.05 97.58 1348.5 98.4 1348.95 98.64 1349.4 98.78 1349.85 99.13 1350.3 98.7 1350.75 98.3 1351.2 97.88 1351.65 97.26 1352.1 97.86 1352.55 97.78 1353 97.69 1353.45 97.53 1353.9 98.05 1354.35 97.75 1354.8 97.72 1355.25 99.16 1355.7 100.43 1356.15 101.78 1356.6 101.07 1357.05 100.42 1357.5 99.59 1357.95 98.62 1358.4 98.98 1358.85 100.41 1359.3 102.36 1359.75 102.94 1360.2 102.99 1360.65 101.48 1361.1 100.24 1361.55 100.52 1362 99.57 1362.45 98.87 1362.9 98.33 1363.35 97.46 1363.8 98.11 1364.25 99.02 1364.7 100.27 1365.15 100.37 1365.6 99.51 1366.05 100.6 1366.5 101.33 1366.95 101.93 1367.4 102.55 1367.85 103.32 1368.3 103.21 1368.75 102.61 1369.2 102.32 1369.65 101.05 1370.1 102.04 1370.55 102.17 1371 102.06 1371.45 103 1371.9 102.88 1372.35 102.83 1372.8 102.33 1373.25 102.46 1373.7 102.13 1374.15 102.56 1374.6 102.93 1375.05 102.73 1375.5 103.14 1375.95 102.54 1376.4 102.45 1376.85 102.39 1377.3 102.14 1377.75 101.79 1378.2 102.03 1378.65 101.84 1379.1 100.7 1379.55 100.5 1380 99.88 1380.45 100.3 1380.9 101.69 1381.35 102.04 1381.8 103.3 1382.25 103.75 1382.7 102.95 1383.15 103.35 1383.6 102.94 1384.05 102.83 1384.5 103.27 1384.95 103.66 1385.4 104 1385.85 103.69 1386.3 104.1 1386.75 103.81 1387.2 104.17 1387.65 103.96 1388.1 103.18 1388.55 103.39 1389 102.91 1389.45 103.48 1389.9 103.55 1390.35 103.13 1390.8 102.49 1391.25 101.66 1391.7 101.9 1392.15 101.98 1392.6 101.83 1393.05 101.79 1393.5 101.93 1393.95 101.62 1394.4 101.96 1394.85 102.06 1395.3 102.23 1395.75 103.65 1396.2 104.1 1396.65 104.4 1397.1 104.13" stroke="#1a1a1a" stroke-width="1.5" fill="none" stroke-linejoin="round"/>
<g clip-path="url(#cb1)"><path id="cb1p" d="M761.6 247.5 762.4 247.57 763.2 247.24 764 247.01 764.8 247.05 765.6 245.98 766.4 245.94 767.2 245.53 768 245.69 768.8 245.83 769.6 245.34 770.4 245.32 771.2 244.42 772 244.88 772.8 244.41 773.6 245.06 774.4 244.66 775.2 244.54 776 244.12 776.8 244.21 777.6 244.12 778.4 243.72 779.2 243.59 780 243.62 780.8 243.41 781.6 243.36 782.4 243.4 783.2 243.23 784 243.65 784.8 242.93 785.6 243.65 786.4 243.22 787.2 243.26 788 243.05 788.8 243.45 789.6 243.46 790.4 243.65 791.2 243.49 792 243.74 792.8 244.32 793.6 243.97 794.4 243.74 795.2 244.26 796 244 796.8 244.28 797.6 244.34 798.4 244.08 799.2 243.66 800 244.17 800.8 244.46 801.6 244.19 802.4 244.43 803.2 244.57 804 244.08 804.8 244.56 805.6 244.62 806.4 244.38 807.2 244.33 808 244.21 808.8 244.46 809.6 243.73 810.4 243.56 811.2 243.61 812 243.03 812.8 242.7 813.6 242.76 814.4 242.99 815.2 242.87 816 242.11 816.8 241.86 817.6 242.17 818.4 242.06 819.2 241.95 820 242.01 820.8 242.03 821.6 241.58 822.4 241.56 823.2 240.91 824 240.75 824.8 241.05 825.6 241.05 826.4 240.96 827.2 240.82 828 240.78 828.8 240.7 829.6 239.86 830.4 240.1 831.2 240.41 832 240.41 832.8 239.76 833.6 240.55 834.4 240.07 835.2 240.16 836 240.35 836.8 240.54 837.6 239.95 838.4 240.74 839.2 240.55 840 240.39 840.8 240.64 841.6 240.17 842.4 240.74 843.2 241.1 844 240.95 844.8 241.18 845.6 241.35 846.4 241.53 847.2 241.93 848 241.73 848.8 241.76 849.6 242.1 850.4 242.66 851.2 242.02 852 242.35 852.8 241.79 853.6 242.72 854.4 242.56 855.2 242.79 856 242.38 856.8 242.08 857.6 242.63 858.4 242.54 859.2 241.98 860 241.71 860.8 242.19 861.6 241.88 862.4 242.58 863.2 241.47 864 241.35 864.8 241.31 865.6 240.68 866.4 240.75 867.2 241.34 868 240.63 868.8 240.32 869.6 239.95 870.4 240.35 871.2 240.21 872 239.95 872.8 239.62 873.6 239.7 874.4 239.61 875.2 239.19 876 239.51 876.8 238.62 877.6 238.83 878.4 239.11 879.2 239.17 880 238.86 880.8 239.32 881.6 239.56 882.4 239.4 883.2 239.37 884 239.58 884.8 239.49 885.6 239.08 886.4 239.41 887.2 239.91 888 239.23 888.8 239.65 889.6 239.58 890.4 239.49 891.2 239.53 892 239.93 892.8 240.07 893.6 240.14 894.4 239.69 895.2 240.12 896 240.39 896.8 240.65 897.6 240.64 898.4 240.77 899.2 240.93 900 240.93 900.8 240.52 901.6 240.86 902.4 240.71 903.2 240.28 904 240.57 904.8 241.77 905.6 240.89 906.4 240.65 907.2 241.24 908 241.97 908.8 241.6 909.6 241.85 910.4 241.76 911.2 241.94 912 242.47 912.8 242.45 913.6 242.32 914.4 242.74 915.2 242.93 916 242.68 916.8 242.96 917.6 243.09 918.4 242.96 919.2 243.64 920 243.38 920.8 243.38 921.6 243.2 922.4 243.46 923.2 244.43 924 243.76 924.8 244.36 925.6 244.25 926.4 244.63 927.2 244.77 928 244.47 928.8 244.73 929.6 244.95 930.4 245.05 931.2 245.1 932 245.1 932.8 245.46 933.6 245.73 934.4 245.56 935.2 245.24 936 245.62 936.8 245.56 937.6 245.71 938.4 246.14 939.2 245.54 940 245.59 940.8 245.32 941.6 245.47 942.4 245.34 943.2 245.94 944 245.49 944.8 245.15 945.6 245.82 946.4 244.75 947.2 245.31 948 245.25 948.8 245 949.6 244.63 950.4 244.54 951.2 244.35 952 244.56 952.8 243.48 953.6 243.89 954.4 243.95 955.2 243.59 956 243.07 956.8 243.41 957.6 243.11 958.4 243.44 959.2 243.48 960 242.95 960.8 242.22 961.6 242.62 962.4 242.28 963.2 242.65 964 242.85 964.8 242.33 965.6 242.76 966.4 242.52 967.2 242.2 968 241.67 968.8 241.94 969.6 241.44 970.4 242.16 971.2 241.87 972 242.25 972.8 241.95 973.6 241.31 974.4 242.14 975.2 242.29 976 242.58 976.8 241.87 977.6 241.98 978.4 242.38 979.2 242.15 980 242.16 980.8 242.36 981.6 243.58" stroke="#333333" stroke-width="1.6" fill="none" stroke-linejoin="round" transform="translate(0 -0.4)"/><use href="#cb1p" transform="translate(0 0.8)"/></g>
<path clip-path="url(#cb1)" d="M981.6 243.58 982.2 244.09 982.65 240.85 983.1 241.34 983.55 236.53 984 239.95 984.45 237.15 984.9 242 985.35 242.86 985.8 248.88 986.25 245.17 986.7 240.44 987.15 249.25 987.6 237.09 988.05 241.36 988.5 239.69 988.95 243.17 989.4 246.62 989.85 239.91 990.3 243.32 990.75 240.59 991.2 242.24 991.65 242.17 992.1 249.13 992.55 249.47 993 248.19 993.45 237.16 993.9 236.13 994.35 242.25 994.8 233.19 995.25 242.1 995.7 239.22 996.15 243.78 996.6 250.26 997.05 242.71 997.5 239.38 997.95 237.76 998.4 235.15 998.85 236 999.3 250.2 999.75 245.8 1000.2 240.4 1000.65 249.7 1001.1 245.66 1001.55 242.27 1002 243.51 1002.45 240.2 1002.9 244.24 1003.35 237.23 1003.8 239.63 1004.25 241.46 1004.7 234.9 1005.15 250.87 1005.6 247.27 1006.05 249.75 1006.5 247.86 1006.95 234.45 1007.4 239.92 1007.85 239.99 1008.3 234.42 1008.75 237.61 1009.2 242.27 1009.65 235.31 1010.1 245.02 1010.55 250.04 1011 245.63 1011.45 238.94 1011.9 239.43 1012.35 246.38 1012.8 241.74 1013.25 237.38 1013.7 233.44 1014.15 243.14 1014.6 243.71 1015.05 246.67 1015.5 245.91 1015.95 252.41 1016.4 248.15 1016.85 231.56 1017.3 243.94 1017.75 240.1 1018.2 244.75 1018.65 237.66 1019.1 241.09 1019.55 243.59 1020 226.67 1020.45 247.69 1020.9 250.64 1021.35 238.18 1021.8 240.13 1022.25 246.48 1022.7 241.19 1023.15 243.33 1023.6 242.1 1024.05 237.44 1024.5 245.42 1024.95 239.31 1025.4 240.43 1025.85 240.49 1026.3 237.46 1026.75 245.11 1027.2 246.67 1027.65 240.46 1028.1 243.85 1028.55 245.58 1029 241.47 1029.45 236.88 1029.9 242.16 1030.35 246.82 1030.8 243.45 1031.25 246.78 1031.7 234.91 1032.15 237.52 1032.6 242.74 1033.05 247.02 1033.5 245.41 1033.95 232.62 1034.4 238.86 1034.85 239.89 1035.3 244.26 1035.75 239.23 1036.2 250.08 1036.65 260.5 1037.1 245.38 1037.55 238.18 1038 230.87 1038.45 230.83 1038.9 234.98 1039.35 241.55 1039.8 243.44 1040.25 243.69 1040.7 244.37 1041.15 241.9 1041.6 242.64 1042.05 231.22 1042.5 280.57 1042.95 281.73 1043.4 236.05 1043.85 246.52 1044.3 238.21 1044.75 193.94 1045.2 195.25 1045.65 223.17 1046.1 262.98 1046.55 263.52 1047 259.86 1047.45 209.54 1047.9 206.83 1048.35 232.67 1048.8 231.11 1049.25 236.61 1049.7 269.83 1050.15 271.57 1050.6 219.68 1051.05 231.56 1051.5 243.53 1051.95 233.18 1052.4 268.9 1052.85 156.34 1053.3 157.37 1053.75 242.05 1054.2 296.45 1054.65 297.02 1055.1 240.75 1055.55 215.14 1056 210.7 1056.45 203.07 1056.9 224.38 1057.35 229.97 1057.8 263.17 1058.25 263.89 1058.7 244.89 1059.15 254.47 1059.6 213.9 1060.05 212.73 1060.5 231.99 1060.95 236.4 1061.4 258.01 1061.85 255.67 1062.3 254.89 1062.75 240.69 1063.2 235.97 1063.65 247.14 1064.1 248.3 1064.55 209.96 1065 208.46 1065.45 223.07 1065.9 227.7 1066.35 221.65 1066.8 265.92 1067.25 268.4 1067.7 244.13 1068.15 256.96 1068.6 259.36 1069.05 252.36 1069.5 252.12 1069.95 239.57 1070.4 246.3 1070.85 213.29 1071.3 213.11 1071.75 223.67 1072.2 227.65 1072.65 256.06 1073.1 266.85 1073.55 277.09 1074 276.55 1074.45 241 1074.9 221.02 1075.35 229.75 1075.8 231.25 1076.25 238.9 1076.7 249.03 1077.15 247.93 1077.6 212.19 1078.05 212.97 1078.5 246.23 1078.95 248.71 1079.4 254.18 1079.85 243.88 1080.3 255.48 1080.75 269.73 1081.2 269.89 1081.65 231.43 1082.1 227.93 1082.55 237.92 1083 231.16 1083.45 250.3 1083.9 245.06 1084.35 253.58 1084.8 255.75 1085.25 251.13 1085.7 219.22 1086.15 218.28 1086.6 240.79 1087.05 235.47 1087.5 243.81 1087.95 252.19 1088.4 251.81 1088.85 252.23 1089.3 250 1089.75 265.46 1090.2 265.64 1090.65 243.03 1091.1 244.4 1091.55 239.48 1092 250.97 1092.45 256.76 1092.9 233.66 1093.35 249.13 1093.8 246.82 1094.25 245.16 1094.7 220.88 1095.15 219.91 1095.6 241.49 1096.05 249.61 1096.5 237.86 1096.95 231.14 1097.4 248.6 1097.85 262.09 1098.3 263.07 1098.75 249.17 1099.2 253.78 1099.65 248.04 1100.1 241.51 1100.55 256.28 1101 237.34 1101.45 236.36 1101.9 216.85 1102.35 218.92 1102.8 266.83 1103.25 260.8 1103.7 258.27 1104.15 238.05 1104.6 227.03 1105.05 230.91 1105.5 252.25 1105.95 253.75 1106.4 257.26 1106.85 241.89 1107.3 240.07 1107.75 245.2 1108.2 240.1 1108.65 248.46 1109.1 242.24 1109.55 258.21 1110 249.34 1110.45 240.08 1110.9 235.66 1111.35 226.33 1111.8 236.23 1112.25 249.18 1112.7 253.69 1113.15 247.25 1113.6 257.94 1114.05 256.07 1114.5 263.13 1114.95 249.68 1115.4 232.48 1115.85 233.18 1116.3 228.84 1116.75 251.34 1117.2 248.76 1117.65 248.41 1118.1 251.99 1118.55 239.46 1119 236.98 1119.45 234.62 1119.9 239.09 1120.35 253.89 1120.8 265.55 1121.25 257.83 1121.7 259.71 1122.15 255.93 1122.6 238.48 1123.05 237.7 1123.5 237.7 1123.95 243.82 1124.4 245.91 1124.85 240.26 1125.3 242.75 1125.75 242.19 1126.2 233.62 1126.65 220.08 1127.1 217.37 1127.55 229.63 1128 260.09 1128.45 279.86 1128.9 273.44 1129.35 270.27 1129.8 259.85 1130.25 242.41 1130.7 229.43 1131.15 233.57 1131.6 237.63 1132.05 236.41 1132.5 246.71 1132.95 246.5 1133.4 236.19 1133.85 247.43 1134.3 257.74 1134.75 242.3 1135.2 251.87 1135.65 249.41 1136.1 235.74 1136.55 233.91 1137 234.03 1137.45 249.35 1137.9 248.63 1138.35 253.21 1138.8 246.35 1139.25 246.53 1139.7 246.75 1140.15 229.1 1140.6 240.3 1141.05 245.3 1141.5 244.33 1141.95 236.1 1142.4 228.07 1142.85 242.6 1143.3 252.21 1143.75 246.96 1144.2 250.42 1144.65 253.31 1145.1 243.32 1145.55 245.09 1146 240.57 1146.45 238.36 1146.9 253.35 1147.35 251.84 1147.8 236.26 1148.25 237.32 1148.7 227.24 1149.15 228.69 1149.6 245.95 1150.05 232.33 1150.5 238.1 1150.95 238.82 1151.4 231.02 1151.85 247.42 1152.3 252.27 1152.75 256.17 1153.2 265.82 1153.65 259.84 1154.1 254.32 1154.55 257.79 1155 247.81 1155.45 241.62 1155.9 234.13 1156.35 233.16 1156.8 237.87 1157.25 224.89 1157.7 225.75 1158.15 230.16 1158.6 227.9 1159.05 232.03 1159.5 236.81 1159.95 247.28 1160.4 255.18 1160.85 249.68 1161.3 246.69 1161.75 252.21 1162.2 256.68 1162.65 249.94 1163.1 245.54 1163.55 241.85 1164 228.9 1164.45 233.56 1164.9 241.26 1165.35 244.68 1165.8 245.71 1166.25 243.55 1166.7 244.17 1167.15 241.99 1167.6 248.68 1168.05 249.33 1168.5 247.52 1168.95 253.52 1169.4 247.4 1169.85 235.62 1170.3 237.12 1170.75 242.9 1171.2 241.74 1171.65 244.67 1172.1 244.49 1172.55 230.63 1173 228.06 1173.45 235.07 1173.9 238.08 1174.35 242.32 1174.8 235.81 1175.25 233.47 1175.7 233.42 1176.15 232.83 1176.6 234.59 1177.05 243.04 1177.5 261.85 1177.95 259.02 1178.4 255 1178.85 246.55 1179.3 245.24 1179.75 259.82 1180.2 255.57 1180.65 253.32 1181.1 246.82 1181.55 239.67 1182 237.32 1182.45 228.89 1182.9 232.67 1183.35 242.21 1183.8 238.59 1184.25 232.63 1184.7 233.86 1185.15 238.17 1185.6 245.6 1186.05 251.64 1186.5 248.52 1186.95 237.54 1187.4 231.27 1187.85 223.03 1188.3 232.7 1188.75 252.64 1189.2 246.18 1189.65 245.41 1190.1 246.22 1190.55 236.41 1191 236.16 1191.45 237.96 1191.9 245.78 1192.35 251.47 1192.8 246.81 1193.25 249.74 1193.7 245.33 1194.15 237.85 1194.6 242.03 1195.05 252.91 1195.5 261.1 1195.95 252.71 1196.4 246.72 1196.85 239.65 1197.3 230.83 1197.75 227.47 1198.2 236.23 1198.65 244.02 1199.1 237.85 1199.55 243.62 1200 237.69 1200.45 234.37 1200.9 242.84 1201.35 245.61 1201.8 246.82 1202.25 237.54 1202.7 238.02 1203.15 240.76 1203.6 243.25 1204.05 241.84 1204.5 240.51 1204.95 249.51 1205.4 242.8 1205.85 240.22 1206.3 246.42 1206.75 246.89 1207.2 245.68 1207.65 244.17 1208.1 247.43 1208.55 244.72 1209 245.53 1209.45 246.79 1209.9 238.17 1210.35 239.91 1210.8 240.91 1211.25 238.18 1211.7 244.02 1212.15 246.3 1212.6 244.88 1213.05 242.6 1213.5 239.44 1213.95 239.65 1214.4 244.72 1214.85 247.21 1215.3 248.55 1215.75 248.05 1216.2 237.5 1216.65 236.99 1217.1 237.17 1217.55 236.5 1218 244.41 1218.45 242.88 1218.9 243.13 1219.35 237.94 1219.8 237.76 1220.25 240.3 1220.7 238.45 1221.15 251.51 1221.6 247.48 1222.05 242.08 1222.5 243.84 1222.95 243.01 1223.4 247.31 1223.85 243.14 1224.3 242.31 1224.75 242.27 1225.2 244.53 1225.65 244.79 1226.1 244.22 1226.55 245.15 1227 241.06 1227.45 241.23 1227.9 238.13 1228.35 240.64 1228.8 244.23 1229.25 246.37 1229.7 245.99 1230.15 235.82 1230.6 234.54 1231.05 237.87 1231.5 238.51 1231.95 244.79 1232.4 251.63 1232.85 247.79 1233.3 244.06 1233.75 239.84 1234.2 234.65 1234.65 238.96 1235.1 240.06 1235.55 238.67 1236 241.39 1236.45 241.19 1236.9 240.13 1237.35 245.99 1237.8 249.81 1238.25 245.94 1238.7 241.26 1239.15 240.05 1239.6 240.38 1240.05 240.96 1240.5 245.82 1240.95 249.18 1241.4 246.48 1241.85 240.83 1242.3 238.72 1242.75 237.61 1243.2 235.99 1243.65 241.19 1244.1 243.17 1244.55 236.3 1245 237.51 1245.45 241.96 1245.9 240.74 1246.35 242.45 1246.8 241.71 1247.25 243.2 1247.7 240.85 1248.15 234.71 1248.6 236.5 1249.05 239.09 1249.5 242.39 1249.95 240.69 1250.4 239.34 1250.85 240.35 1251.3 242.74 1251.75 245.16 1252.2 241.38 1252.65 240.19 1253.1 237.57 1253.55 234.05 1254 231.28 1254.45 228 1254.9 233.43 1255.35 239.78 1255.8 239.34 1256.25 241.24 1256.7 237.33 1257.15 232.37 1257.6 236.87 1258.05 238.98 1258.5 243.64 1258.95 246.23 1259.4 246.32 1259.85 244.6 1260.3 238.25 1260.75 236.15 1261.2 233.88 1261.65 235.96 1262.1 238.93 1262.55 237.21 1263 234.54 1263.45 232.8 1263.9 231.56 1264.35 230.98 1264.8 236.98 1265.25 242.39 1265.7 242.67 1266.15 240.14 1266.6 239.81 1267.05 240.16 1267.5 239.41 1267.95 240.83 1268.4 240.86 1268.85 240.39 1269.3 237.64 1269.75 237.48 1270.2 242.2 1270.65 246.68 1271.1 249.42 1271.55 249.03 1272 245.08 1272.45 240.42 1272.9 241.15 1273.35 241.66 1273.8 244.37 1274.25 245.97 1274.7 244.47 1275.15 246.46 1275.6 244.66 1276.05 247.52 1276.5 250.48 1276.95 248.86 1277.4 248.23 1277.85 244.6 1278.3 243.73 1278.75 243.37 1279.2 245.05 1279.65 249.04 1280.1 250.15 1280.55 250.24 1281 248.99 1281.45 247.85 1281.9 246.65 1282.35 247.83 1282.8 249.17 1283.25 247.7 1283.7 247.08 1284.15 247.81 1284.6 248.43 1285.05 249.65 1285.5 251.18 1285.95 248.24 1286.4 243.41 1286.85 241.86 1287.3 242.44 1287.75 244 1288.2 246.33 1288.65 247.85 1289.1 247.9 1289.55 247.76 1290 248.41 1290.45 250.12 1290.9 251.06 1291.35 251.82 1291.8 251.06 1292.25 248.02 1292.7 246.44 1293.15 244.93 1293.6 244.37 1294.05 244.76 1294.5 243.21 1294.95 243.35 1295.4 246.27 1295.85 247.25 1296.3 246.42 1296.75 245.48 1297.2 243.1 1297.65 243.08 1298.1 245.24 1298.55 246.17 1299 247.56 1299.45 248.89 1299.9 248.61 1300.35 247.62 1300.8 246.76 1301.25 246.69 1301.7 246.16 1302.15 243.39 1302.6 244.52 1303.05 245.8 1303.5 246.18 1303.95 247.94 1304.4 245.42 1304.85 246 1305.3 243.78 1305.75 241.13 1306.2 245.29 1306.65 249.41 1307.1 251.66 1307.55 247.8 1308 244.89 1308.45 243.1 1308.9 241.51 1309.35 242.23 1309.8 244.33 1310.25 245.51 1310.7 244.46 1311.15 244.46 1311.6 242.44 1312.05 243.78 1312.5 245.6 1312.95 246.28 1313.4 245.83 1313.85 244.75 1314.3 244.74 1314.75 243.51 1315.2 244.51 1315.65 242.94 1316.1 245.36 1316.55 246.26 1317 244.18 1317.45 244.96 1317.9 243.46 1318.35 244.11 1318.8 243.6 1319.25 243.21 1319.7 243.43 1320.15 244.81 1320.6 246.15 1321.05 244.74 1321.5 242.88 1321.95 242.54 1322.4 244.64 1322.85 245.77 1323.3 245.76 1323.75 244.83 1324.2 243.79 1324.65 241.13 1325.1 240.05 1325.55 238.82 1326 239.64 1326.45 242.09 1326.9 241.83 1327.35 243.03 1327.8 242.4 1328.25 243.89 1328.7 244.28 1329.15 243.23 1329.6 243.47 1330.05 244.31 1330.5 242.96 1330.95 240.39 1331.4 240.1 1331.85 237.79 1332.3 241.13 1332.75 241.5 1333.2 241.21 1333.65 242.27 1334.1 239.77 1334.55 242.45 1335 242.31 1335.45 242.09 1335.9 243.11 1336.35 241.99 1336.8 240.45 1337.25 239.51 1337.7 239.86 1338.15 240.67 1338.6 240.03 1339.05 238.89 1339.5 238.58 1339.95 237.05 1340.4 240.06 1340.85 241.18 1341.3 241.08 1341.75 243.51 1342.2 241.7 1342.65 240.02 1343.1 238.25 1343.55 236.71 1344 239.83 1344.45 241.8 1344.9 242.91 1345.35 243.87 1345.8 239.53 1346.25 238.07 1346.7 238.13 1347.15 237.23 1347.6 238.05 1348.05 239.86 1348.5 241.6 1348.95 239.66 1349.4 241.22 1349.85 243.21 1350.3 241.63 1350.75 240.74 1351.2 241.21 1351.65 240.97 1352.1 240.39 1352.55 240.98 1353 240.89 1353.45 241.64 1353.9 240.95 1354.35 240.53 1354.8 239.71 1355.25 239.67 1355.7 241.47 1356.15 241.99 1356.6 242.95 1357.05 241.3 1357.5 240.27 1357.95 240.49 1358.4 240.01 1358.85 240.7 1359.3 240.72 1359.75 240.96 1360.2 240.68 1360.65 238.16 1361.1 237.87 1361.55 239.92 1362 240.74 1362.45 240.65 1362.9 240.93 1363.35 241.38 1363.8 241.5 1364.25 243.34 1364.7 244.75 1365.15 245.3 1365.6 243.68 1366.05 241.59 1366.5 240.83 1366.95 240.46 1367.4 241.93 1367.85 242.22 1368.3 242.32 1368.75 239.53 1369.2 239.15 1369.65 240.21 1370.1 240.03 1370.55 243.06 1371 243.84 1371.45 243.98 1371.9 241.47 1372.35 241.48 1372.8 243.2 1373.25 242.01 1373.7 242.99 1374.15 243.54 1374.6 242.04 1375.05 240.88 1375.5 241.09 1375.95 238.84 1376.4 239.02 1376.85 239.69 1377.3 240.26 1377.75 242.31 1378.2 242.78 1378.65 244.43 1379.1 243.9 1379.55 244.27 1380 244.32 1380.45 243.66 1380.9 244.78 1381.35 245.36 1381.8 245.21 1382.25 245.21 1382.7 245.19 1383.15 243.62 1383.6 244.12 1384.05 242.09 1384.5 239.16 1384.95 239.49 1385.4 239.42 1385.85 239.94 1386.3 240.98 1386.75 242.16 1387.2 241.08 1387.65 240.86 1388.1 242.67 1388.55 243.72 1389 244.43 1389.45 245.32 1389.9 246.17 1390.35 244.63 1390.8 243.96 1391.25 244.44 1391.7 244.65 1392.15 245.05 1392.6 244.42 1393.05 243.63 1393.5 243.06 1393.95 244.21 1394.4 244.4 1394.85 244.9 1395.3 245.1 1395.75 243.25 1396.2 243.98 1396.65 243.81 1397.1 243.97" stroke="#1a1a1a" stroke-width="1.5" fill="none" stroke-linejoin="round"/>
<g clip-path="url(#cb2)"><path id="cb2p" d="M761.6 401.55 762.4 399.94 763.2 401.02 764 400.63 764.8 400.88 765.6 400.49 766.4 400.81 767.2 400.16 768 399.89 768.8 400.12 769.6 399.99 770.4 399.66 771.2 399.61 772 399.82 772.8 399.73 773.6 399.3 774.4 399.27 775.2 398.77 776 399.76 776.8 399.13 777.6 399.54 778.4 399.21 779.2 399.62 780 399.46 780.8 399.05 781.6 399.36 782.4 398.6 783.2 399.23 784 398.38 784.8 398.9 785.6 399.1 786.4 398.83 787.2 398.63 788 398.49 788.8 398.62 789.6 399.03 790.4 398.97 791.2 398.62 792 398.33 792.8 398.91 793.6 398.29 794.4 398.6 795.2 398.59 796 399.09 796.8 399.01 797.6 399.16 798.4 399.19 799.2 399.01 800 399.48 800.8 399.85 801.6 399.53 802.4 399.86 803.2 399.76 804 400.24 804.8 400.26 805.6 400.46 806.4 400.44 807.2 400.96 808 400.5 808.8 400.64 809.6 400.69 810.4 401.18 811.2 400.94 812 401.05 812.8 401.58 813.6 401.81 814.4 401.74 815.2 400.85 816 401.45 816.8 401.49 817.6 401.51 818.4 401.8 819.2 402.51 820 401.9 820.8 401.78 821.6 402.21 822.4 402.01 823.2 402.01 824 401.75 824.8 401.93 825.6 402.04 826.4 401.3 827.2 401.35 828 402.11 828.8 401.99 829.6 401.53 830.4 401.32 831.2 401.51 832 401.15 832.8 401.33 833.6 401.86 834.4 401.33 835.2 401.56 836 401.06 836.8 401.15 837.6 401.37 838.4 400.46 839.2 400.67 840 400.63 840.8 400.66 841.6 400.95 842.4 400.59 843.2 399.83 844 400.09 844.8 399.8 845.6 399.69 846.4 400.47 847.2 399.43 848 399.71 848.8 399.32 849.6 399.69 850.4 399.42 851.2 399.25 852 399.08 852.8 399.34 853.6 398.61 854.4 398.56 855.2 398.34 856 398.97 856.8 398.38 857.6 398.06 858.4 398.14 859.2 398.92 860 398.04 860.8 398.24 861.6 398.03 862.4 397.8 863.2 397.51 864 397.53 864.8 397.45 865.6 396.81 866.4 398.18 867.2 397.61 868 397.3 868.8 397.14 869.6 396.9 870.4 397.37 871.2 396.98 872 397.13 872.8 396.53 873.6 397.02 874.4 397.48 875.2 396.77 876 397.07 876.8 396.83 877.6 397.14 878.4 397.12 879.2 396.82 880 396.65 880.8 396.94 881.6 396.91 882.4 396.77 883.2 397.17 884 397.24 884.8 396.94 885.6 397.27 886.4 398.3 887.2 397.79 888 397.7 888.8 398.56 889.6 397.82 890.4 397.36 891.2 397.69 892 397.97 892.8 398.67 893.6 399.06 894.4 398.29 895.2 399.45 896 398.93 896.8 399.55 897.6 399.79 898.4 399.97 899.2 400.02 900 400.25 900.8 400.03 901.6 400.63 902.4 401.02 903.2 401.17 904 401.84 904.8 401.54 905.6 401.59 906.4 402.02 907.2 401.73 908 401.41 908.8 401.25 909.6 402.42 910.4 402.32 911.2 402.5 912 402.23 912.8 402.51 913.6 403.04 914.4 402.62 915.2 402.23 916 402.46 916.8 403.02 917.6 402.27 918.4 401.82 919.2 401.91 920 402.19 920.8 402.83 921.6 402.62 922.4 402.36 923.2 402.2 924 402.55 924.8 402.53 925.6 402.4 926.4 402.49 927.2 402.33 928 403.1 928.8 401.84 929.6 402.58 930.4 402.23 931.2 402.74 932 402.45 932.8 402.62 933.6 402.66 934.4 402.55 935.2 402.77 936 402.05 936.8 402.74 937.6 402.38 938.4 402.55 939.2 402.89 940 402.74 940.8 402.99 941.6 401.7 942.4 402.08 943.2 402.64 944 402 944.8 402.27 945.6 402.82 946.4 402.55 947.2 401.99 948 402.39 948.8 402.43 949.6 402.24 950.4 402.18 951.2 402.23 952 401.72 952.8 402.19 953.6 401.84 954.4 402.23 955.2 402.22 956 401.8 956.8 402.24 957.6 402.14 958.4 402 959.2 402.21 960 401.87 960.8 401.84 961.6 401.92 962.4 401.83 963.2 402.15 964 401.04 964.8 401.6 965.6 401.03 966.4 401.42 967.2 401.58 968 401.43 968.8 401.65 969.6 401.37 970.4 400.38 971.2 400.78 972 401.5 972.8 401.41 973.6 400.89 974.4 400.3 975.2 401.33 976 399.96 976.8 400.59 977.6 400.38 978.4 400.38 979.2 399.86 980 400 980.8 400.35 981.6 399.78" stroke="#333333" stroke-width="1.6" fill="none" stroke-linejoin="round" transform="translate(0 -0.4)"/><use href="#cb2p" transform="translate(0 0.8)"/></g>
<path clip-path="url(#cb2)" d="M981.6 399.78 982.2 396.81 982.65 399.66 983.1 400.9 983.55 398.38 984 396.87 984.45 400.6 984.9 400.16 985.35 399.02 985.8 402.56 986.25 403.03 986.7 402.7 987.15 398.66 987.6 398.66 988.05 400.25 988.5 398.15 988.95 396.35 989.4 396.28 989.85 400.41 990.3 402.2 990.75 404.98 991.2 400.53 991.65 398.55 992.1 401.22 992.55 397.04 993 400.4 993.45 398.69 993.9 396.03 994.35 399.18 994.8 398.53 995.25 399.69 995.7 402.01 996.15 400.76 996.6 398.28 997.05 398.06 997.5 394.87 997.95 401.99 998.4 406.08 998.85 401.52 999.3 403.37 999.75 395.03 1000.2 398.45 1000.65 402.48 1001.1 396.96 1001.55 399.2 1002 396.5 1002.45 401.64 1002.9 401.35 1003.35 400.73 1003.8 401.64 1004.25 396.66 1004.7 400.16 1005.15 400.21 1005.6 399.6 1006.05 395.57 1006.5 402.7 1006.95 404.89 1007.4 396.21 1007.85 400.08 1008.3 398.14 1008.75 399.6 1009.2 398.43 1009.65 397.98 1010.1 402.54 1010.55 401.86 1011 400.31 1011.45 398.34 1011.9 398.47 1012.35 398.07 1012.8 399.34 1013.25 396.52 1013.7 399.9 1014.15 402.24 1014.6 401.46 1015.05 400.42 1015.5 395.44 1015.95 399.48 1016.4 398.72 1016.85 400.17 1017.3 401.87 1017.75 403.51 1018.2 406.15 1018.65 401.23 1019.1 398.16 1019.55 395.34 1020 396.7 1020.45 399.37 1020.9 400.64 1021.35 399.76 1021.8 400.73 1022.25 400.36 1022.7 399.35 1023.15 398.87 1023.6 395.26 1024.05 397.74 1024.5 400.18 1024.95 403.24 1025.4 401.28 1025.85 397.52 1026.3 400.52 1026.75 401.38 1027.2 399.58 1027.65 400.76 1028.1 399.61 1028.55 395.28 1029 396.35 1029.45 397.8 1029.9 404.42 1030.35 403.96 1030.8 395.82 1031.25 396.25 1031.7 400.75 1032.15 403.07 1032.6 403.67 1033.05 402.81 1033.5 396.85 1033.95 399.6 1034.4 401.13 1034.85 401.73 1035.3 402.26 1035.75 397.67 1036.2 400.5 1036.65 396.45 1037.1 391.64 1037.55 398.27 1038 404.36 1038.45 400.85 1038.9 400.14 1039.35 399.65 1039.8 398.87 1040.25 399.77 1040.7 397.78 1041.15 398.61 1041.6 394.14 1042.05 445.96 1042.5 446.04 1042.95 402.39 1043.4 404.33 1043.85 401.29 1044.3 414.95 1044.75 401.29 1045.2 396.13 1045.65 305.89 1046.1 306.19 1046.55 405.2 1047 392.56 1047.45 425.73 1047.9 425.49 1048.35 405.93 1048.8 415.85 1049.25 408.54 1049.7 366.89 1050.15 366.37 1050.6 401.5 1051.05 391.15 1051.5 386.88 1051.95 390.43 1052.4 432.17 1052.85 433.41 1053.3 408.24 1053.75 405.66 1054.2 397.08 1054.65 384.37 1055.1 384.18 1055.55 400.02 1056 415.92 1056.45 414.1 1056.9 417.31 1057.35 425.82 1057.8 424.03 1058.25 395.48 1058.7 403.18 1059.15 408.44 1059.6 393.3 1060.05 391.83 1060.5 388.44 1060.95 396.32 1061.4 408.71 1061.85 383.01 1062.3 381.64 1062.75 403.45 1063.2 406.08 1063.65 396.99 1064.1 425.33 1064.55 425.21 1065 395.99 1065.45 399.17 1065.9 385.35 1066.35 385.43 1066.8 407.02 1067.25 407.9 1067.7 407.97 1068.15 417.42 1068.6 417.39 1069.05 411.81 1069.5 397.63 1069.95 393.66 1070.4 401 1070.85 391.81 1071.3 392.49 1071.75 407.1 1072.2 402.38 1072.65 403.36 1073.1 403.03 1073.55 388.46 1074 396.52 1074.45 417.18 1074.9 416 1075.35 399.06 1075.8 398.75 1076.25 396.35 1076.7 402.03 1077.15 400.97 1077.6 405.54 1078.05 403.61 1078.5 399.18 1078.95 401.46 1079.4 400.53 1079.85 395.38 1080.3 394.33 1080.75 403.24 1081.2 404.2 1081.65 400.22 1082.1 396.45 1082.55 402.3 1083 404.87 1083.45 398.78 1083.9 399.71 1084.35 394.63 1084.8 401.03 1085.25 401.49 1085.7 399.97 1086.15 399.65 1086.6 402.3 1087.05 411.95 1087.5 395.67 1087.95 394.38 1088.4 399.7 1088.85 404.51 1089.3 403.66 1089.75 396.42 1090.2 399.24 1090.65 394.54 1091.1 397.96 1091.55 392.99 1092 401.01 1092.45 404.32 1092.9 394.78 1093.35 399.61 1093.8 402.43 1094.25 406.18 1094.7 401.53 1095.15 407.3 1095.6 402.26 1096.05 396.96 1096.5 398.62 1096.95 393.13 1097.4 405.47 1097.85 404.11 1098.3 399.11 1098.75 397.94 1099.2 399.66 1099.65 410.25 1100.1 405.21 1100.55 396.71 1101 392.37 1101.45 389.87 1101.9 395.62 1102.35 400.81 1102.8 404.62 1103.25 406.64 1103.7 402.27 1104.15 390.83 1104.6 385.47 1105.05 402.1 1105.5 408.4 1105.95 406.94 1106.4 406.23 1106.85 397.15 1107.3 397.77 1107.75 400.73 1108.2 406.05 1108.65 405.04 1109.1 400.73 1109.55 397.75 1110 396.03 1110.45 399.99 1110.9 394.32 1111.35 395.71 1111.8 405.29 1112.25 404.73 1112.7 403.04 1113.15 404.74 1113.6 399.05 1114.05 391.67 1114.5 389.11 1114.95 389.61 1115.4 396.64 1115.85 404.11 1116.3 404.46 1116.75 405.16 1117.2 406.2 1117.65 398.92 1118.1 399.41 1118.55 405.36 1119 406.5 1119.45 407.58 1119.9 407.13 1120.35 400.68 1120.8 395.29 1121.25 396.69 1121.7 394.89 1122.15 396.5 1122.6 401.02 1123.05 402.82 1123.5 403.56 1123.95 399.88 1124.4 387.91 1124.85 388.96 1125.3 393.49 1125.75 386.67 1126.2 398.47 1126.65 405.47 1127.1 402.6 1127.55 402 1128 401.77 1128.45 406.31 1128.9 409.31 1129.35 412.35 1129.8 407.62 1130.25 401.36 1130.7 401.1 1131.15 399.41 1131.6 399.5 1132.05 408.62 1132.5 402.02 1132.95 396.66 1133.4 398.17 1133.85 389.21 1134.3 395.95 1134.75 397.29 1135.2 392.3 1135.65 393.31 1136.1 399.54 1136.55 400.59 1137 400.85 1137.45 402.96 1137.9 395.81 1138.35 396.77 1138.8 393.11 1139.25 398.63 1139.7 401.04 1140.15 403.3 1140.6 410.78 1141.05 403.05 1141.5 405.06 1141.95 405.87 1142.4 400.91 1142.85 396.51 1143.3 395.82 1143.75 398.59 1144.2 397.43 1144.65 398.56 1145.1 403.81 1145.55 402.88 1146 397.3 1146.45 397.55 1146.9 396.48 1147.35 398.45 1147.8 399.85 1148.25 401.95 1148.7 406.54 1149.15 400.43 1149.6 395.08 1150.05 392.53 1150.5 391.37 1150.95 396.47 1151.4 401.02 1151.85 404.85 1152.3 404.62 1152.75 400.93 1153.2 400.2 1153.65 396.23 1154.1 398.81 1154.55 401.19 1155 397.07 1155.45 395.64 1155.9 392.51 1156.35 399.9 1156.8 404.15 1157.25 404.2 1157.7 405.65 1158.15 400.13 1158.6 398.17 1159.05 396.2 1159.5 400.75 1159.95 403.16 1160.4 400.83 1160.85 400.3 1161.3 395.2 1161.75 394.05 1162.2 395.56 1162.65 400.49 1163.1 401.7 1163.55 400.32 1164 402.71 1164.45 399.73 1164.9 401.29 1165.35 402.77 1165.8 400.6 1166.25 400.16 1166.7 394.34 1167.15 393.1 1167.6 395.4 1168.05 397.08 1168.5 400.01 1168.95 400.09 1169.4 399.97 1169.85 399.5 1170.3 401.64 1170.75 401.03 1171.2 395.72 1171.65 397.41 1172.1 399.58 1172.55 398.32 1173 401.84 1173.45 402.41 1173.9 402.23 1174.35 403.63 1174.8 401.82 1175.25 402.25 1175.7 400.68 1176.15 401.87 1176.6 402.21 1177.05 399.78 1177.5 398.04 1177.95 393.78 1178.4 395.05 1178.85 395.06 1179.3 394.26 1179.75 396.08 1180.2 396.05 1180.65 397.42 1181.1 399.19 1181.55 397.73 1182 400.41 1182.45 402.19 1182.9 400.81 1183.35 406 1183.8 405.13 1184.25 403.43 1184.7 400.59 1185.15 397.18 1185.6 397.77 1186.05 397.57 1186.5 403.09 1186.95 402.83 1187.4 401.84 1187.85 400.12 1188.3 394.74 1188.75 394.54 1189.2 396.41 1189.65 399.68 1190.1 398.9 1190.55 397.38 1191 398.67 1191.45 397.64 1191.9 397.38 1192.35 402.23 1192.8 401.09 1193.25 397.07 1193.7 397.07 1194.15 394.35 1194.6 397.1 1195.05 403.07 1195.5 403.46 1195.95 403.95 1196.4 404.09 1196.85 402.23 1197.3 404.14 1197.75 404.07 1198.2 401.26 1198.65 400.72 1199.1 398.94 1199.55 395.94 1200 394.96 1200.45 393.24 1200.9 392.52 1201.35 395.27 1201.8 395.15 1202.25 399.82 1202.7 404.7 1203.15 406.31 1203.6 402.35 1204.05 395.02 1204.5 396.22 1204.95 394.07 1205.4 394.89 1205.85 399.78 1206.3 403.14 1206.75 402.4 1207.2 402.27 1207.65 403.56 1208.1 399.01 1208.55 401.92 1209 402.37 1209.45 402.13 1209.9 402.85 1210.35 400.67 1210.8 401.36 1211.25 400.3 1211.7 400.86 1212.15 400.56 1212.6 397.82 1213.05 394.39 1213.5 394.01 1213.95 392.52 1214.4 395.22 1214.85 401.08 1215.3 400.95 1215.75 402.07 1216.2 401.3 1216.65 400.25 1217.1 399.97 1217.55 399.37 1218 398.74 1218.45 399.56 1218.9 399.37 1219.35 398.91 1219.8 402.5 1220.25 401.56 1220.7 399.5 1221.15 398.76 1221.6 399.05 1222.05 401.44 1222.5 401.86 1222.95 401.9 1223.4 401.73 1223.85 400.56 1224.3 401.03 1224.75 401.03 1225.2 399.95 1225.65 400.44 1226.1 401.32 1226.55 402 1227 401.87 1227.45 400.91 1227.9 396.32 1228.35 395.28 1228.8 396.82 1229.25 396.92 1229.7 400.23 1230.15 400.72 1230.6 399.81 1231.05 398.27 1231.5 398.57 1231.95 400.02 1232.4 401.6 1232.85 404.05 1233.3 403.21 1233.75 403.44 1234.2 403.39 1234.65 402.34 1235.1 403.15 1235.55 403.55 1236 400.93 1236.45 400.04 1236.9 399.18 1237.35 399.17 1237.8 402.28 1238.25 402.49 1238.7 403.94 1239.15 403.44 1239.6 401.68 1240.05 402.15 1240.5 403.3 1240.95 403.59 1241.4 401.77 1241.85 401.28 1242.3 399.82 1242.75 399.48 1243.2 400.53 1243.65 401.31 1244.1 400.81 1244.55 399.51 1245 399.71 1245.45 399.36 1245.9 400.35 1246.35 402.12 1246.8 402.81 1247.25 402.67 1247.7 401.36 1248.15 400.99 1248.6 402.53 1249.05 403.33 1249.5 403.77 1249.95 402.54 1250.4 400.77 1250.85 400.65 1251.3 400.77 1251.75 401.85 1252.2 401.01 1252.65 400.32 1253.1 399.68 1253.55 399.15 1254 400.01 1254.45 399.03 1254.9 398.34 1255.35 398.22 1255.8 399.8 1256.25 401 1256.7 401.77 1257.15 403.04 1257.6 400.76 1258.05 399.56 1258.5 400.2 1258.95 399.94 1259.4 401.16 1259.85 401.36 1260.3 399.69 1260.75 398.05 1261.2 398.24 1261.65 399.45 1262.1 398.66 1262.55 399.36 1263 400.15 1263.45 399.86 1263.9 399.5 1264.35 399.05 1264.8 399.3 1265.25 398.84 1265.7 400.08 1266.15 400.61 1266.6 400.24 1267.05 400.33 1267.5 399.51 1267.95 398.97 1268.4 399.01 1268.85 399.18 1269.3 400.11 1269.75 401.58 1270.2 400.65 1270.65 399.68 1271.1 398.2 1271.55 397.75 1272 399.24 1272.45 399.69 1272.9 400.2 1273.35 399.78 1273.8 399.11 1274.25 398.58 1274.7 397.83 1275.15 397.37 1275.6 398.56 1276.05 397.91 1276.5 398.06 1276.95 399.35 1277.4 399.06 1277.85 400.85 1278.3 401.38 1278.75 401.56 1279.2 400.47 1279.65 400.35 1280.1 399.24 1280.55 398.81 1281 400.16 1281.45 398.13 1281.9 399.95 1282.35 398.75 1282.8 398.74 1283.25 400.47 1283.7 399.13 1284.15 399.89 1284.6 397.47 1285.05 396.97 1285.5 398.4 1285.95 398.68 1286.4 399.29 1286.85 400.41 1287.3 401.06 1287.75 400.4 1288.2 399.45 1288.65 399.3 1289.1 400.15 1289.55 399.76 1290 399.15 1290.45 396.91 1290.9 396.47 1291.35 397 1291.8 397.8 1292.25 399.9 1292.7 400.24 1293.15 401.54 1293.6 399.44 1294.05 396.52 1294.5 397.79 1294.95 399.85 1295.4 401.47 1295.85 402.23 1296.3 401.5 1296.75 399.11 1297.2 397.53 1297.65 397.75 1298.1 398.43 1298.55 398.97 1299 399.78 1299.45 398.67 1299.9 397.59 1300.35 398.95 1300.8 400.06 1301.25 400.54 1301.7 400.13 1302.15 398.14 1302.6 396.8 1303.05 398.02 1303.5 399.44 1303.95 399.56 1304.4 398.98 1304.85 398.94 1305.3 398.22 1305.75 398.11 1306.2 399.14 1306.65 399.37 1307.1 399.7 1307.55 397.92 1308 397.25 1308.45 398.15 1308.9 399.37 1309.35 400.46 1309.8 399.9 1310.25 400 1310.7 400.14 1311.15 400.84 1311.6 400.06 1312.05 399.57 1312.5 399.14 1312.95 397.09 1313.4 396.65 1313.85 396.32 1314.3 397.46 1314.75 398.44 1315.2 399.17 1315.65 399.74 1316.1 398.27 1316.55 398.48 1317 399.98 1317.45 400.73 1317.9 400.66 1318.35 400.16 1318.8 399.59 1319.25 398.58 1319.7 398.1 1320.15 398.95 1320.6 398.41 1321.05 397.64 1321.5 398.22 1321.95 397.68 1322.4 397.92 1322.85 397.91 1323.3 397.45 1323.75 397.25 1324.2 397 1324.65 398.48 1325.1 399.42 1325.55 400.54 1326 400.32 1326.45 398.78 1326.9 398.99 1327.35 398.9 1327.8 399.21 1328.25 399.72 1328.7 400.95 1329.15 401.45 1329.6 400.47 1330.05 400.15 1330.5 398.86 1330.95 398.26 1331.4 398.64 1331.85 397.94 1332.3 396.96 1332.75 397.13 1333.2 396.86 1333.65 396.44 1334.1 397.25 1334.55 397.46 1335 398.11 1335.45 399.2 1335.9 399.02 1336.35 398.25 1336.8 398.93 1337.25 399.91 1337.7 400.45 1338.15 400.74 1338.6 400.41 1339.05 400.22 1339.5 399.74 1339.95 400.31 1340.4 400.15 1340.85 399.45 1341.3 398.86 1341.75 398.85 1342.2 399.75 1342.65 398.49 1343.1 398.11 1343.55 398.37 1344 398.38 1344.45 398.59 1344.9 398.66 1345.35 399.26 1345.8 399.58 1346.25 399.74 1346.7 400.06 1347.15 400.88 1347.6 400.37 1348.05 400.27 1348.5 399.74 1348.95 398.27 1349.4 398.17 1349.85 398.09 1350.3 398.66 1350.75 398.07 1351.2 397.17 1351.65 397.63 1352.1 398.9 1352.55 400.1 1353 401.13 1353.45 401.38 1353.9 400.02 1354.35 399.5 1354.8 398.91 1355.25 399.76 1355.7 401.53 1356.15 401.87 1356.6 401.43 1357.05 400.55 1357.5 399.69 1357.95 398.56 1358.4 399.8 1358.85 400.36 1359.3 398.96 1359.75 398.68 1360.2 397.98 1360.65 398.32 1361.1 400.27 1361.55 401.29 1362 400.82 1362.45 400.57 1362.9 399.92 1363.35 398.33 1363.8 398.08 1364.25 398.5 1364.7 399.1 1365.15 399.97 1365.6 399.78 1366.05 399.8 1366.5 400.64 1366.95 400.63 1367.4 400.33 1367.85 400.04 1368.3 399.58 1368.75 399.54 1369.2 400.31 1369.65 400.76 1370.1 400.02 1370.55 400.39 1371 400.66 1371.45 400.45 1371.9 401.68 1372.35 401.34 1372.8 400.19 1373.25 399.9 1373.7 399.73 1374.15 400.51 1374.6 400.77 1375.05 400.77 1375.5 400.97 1375.95 400.7 1376.4 399.93 1376.85 398.59 1377.3 398.91 1377.75 399.37 1378.2 399.87 1378.65 401.07 1379.1 400.49 1379.55 399.72 1380 399.13 1380.45 399.19 1380.9 399.67 1381.35 400.27 1381.8 401.01 1382.25 400.35 1382.7 401.07 1383.15 401.28 1383.6 400.19 1384.05 400.7 1384.5 401.26 1384.95 401.73 1385.4 401.06 1385.85 400.94 1386.3 402.15 1386.75 401.44 1387.2 400.83 1387.65 401.55 1388.1 401.43 1388.55 400.82 1389 400.77 1389.45 400.46 1389.9 399.31 1390.35 398.48 1390.8 398.98 1391.25 400.28 1391.7 400.94 1392.15 400.79 1392.6 401.04 1393.05 400.95 1393.5 400.39 1393.95 400.55 1394.4 400.92 1394.85 401.9 1395.3 402.6 1395.75 402.08 1396.2 401.24 1396.65 400.45 1397.1 399.96" stroke="#1a1a1a" stroke-width="1.5" fill="none" stroke-linejoin="round"/>
<path d="M658.1 152.8V121.2H680.5" stroke="#2e2e2e" stroke-width="1.6" fill="none"/>
<text transform="translate(665.6 142) scale(0.839 1)" font-size="16.77" fill="#2c2c2c" stroke="#2c2c2c" stroke-width="0.35">2</text>
<path d="M1375.18 152.8V121.2H1397.58" stroke="#2e2e2e" stroke-width="1.6" fill="none"/>
<text transform="translate(1382.68 142) scale(0.839 1)" font-size="16.77" fill="#2c2c2c" stroke="#2c2c2c" stroke-width="0.35">2</text>
<path d="M658.1 301.6V270H680.5" stroke="#2e2e2e" stroke-width="1.6" fill="none"/>
<text transform="translate(665.6 290.8) scale(0.839 1)" font-size="16.77" fill="#2c2c2c" stroke="#2c2c2c" stroke-width="0.35">2</text>
<path d="M1375.18 301.6V270H1397.58" stroke="#2e2e2e" stroke-width="1.6" fill="none"/>
<text transform="translate(1382.68 290.8) scale(0.839 1)" font-size="16.77" fill="#2c2c2c" stroke="#2c2c2c" stroke-width="0.35">2</text>
<path d="M658.1 450.4V418.8H680.5" stroke="#2e2e2e" stroke-width="1.6" fill="none"/>
<text transform="translate(665.6 439.6) scale(0.839 1)" font-size="16.77" fill="#2c2c2c" stroke="#2c2c2c" stroke-width="0.35">2</text>
<path d="M1375.18 450.4V418.8H1397.58" stroke="#2e2e2e" stroke-width="1.6" fill="none"/>
<text transform="translate(1382.68 439.6) scale(0.839 1)" font-size="16.77" fill="#2c2c2c" stroke="#2c2c2c" stroke-width="0.35">2</text>
<text transform="translate(37.05 35.9) scale(0.704 1)" font-size="16.15" fill="#2c2c2c" stroke="#2c2c2c" stroke-width="0.4">5</text>
<text transform="translate(37.05 69) scale(0.711 1)" font-size="15.91" fill="#2c2c2c" stroke="#2c2c2c" stroke-width="0.4">0</text>
<text transform="translate(37.05 102.1) scale(0.704 1)" font-size="16.15" fill="#2c2c2c" stroke="#2c2c2c" stroke-width="0.4">5</text>
<path d="M29.5 97.4H35.6" stroke="#2c2c2c" stroke-width="1.4"/>
<text transform="translate(30.64 135.2) scale(0.718 1)" font-size="15.91" fill="#2c2c2c" stroke="#2c2c2c" stroke-width="0.4">10</text>
<path d="M23.5 130.5H29.6" stroke="#2c2c2c" stroke-width="1.4"/>
<text transform="translate(753.62 18.3) scale(0.734 1)" font-size="15.91" fill="#2c2c2c" stroke="#2c2c2c" stroke-width="0.4">6</text>
<text transform="translate(753.96 48.3) scale(0.662 1)" font-size="16.15" fill="#2c2c2c" stroke="#2c2c2c" stroke-width="0.4">4</text>
<text transform="translate(753.61 78.3) scale(0.746 1)" font-size="15.91" fill="#2c2c2c" stroke="#2c2c2c" stroke-width="0.4">2</text>
<text transform="translate(753.75 108.3) scale(0.711 1)" font-size="15.91" fill="#2c2c2c" stroke="#2c2c2c" stroke-width="0.4">0</text>
<text transform="translate(753.61 138.3) scale(0.746 1)" font-size="15.91" fill="#2c2c2c" stroke="#2c2c2c" stroke-width="0.4">2</text>
<path d="M746.2 133.6H752.3" stroke="#2c2c2c" stroke-width="1.4"/>
<text transform="translate(38.91 190.6) scale(0.487 1)" font-size="16.15" fill="#2c2c2c" stroke="#2c2c2c" stroke-width="0.4">1</text>
<text transform="translate(37.05 230.9) scale(0.711 1)" font-size="15.91" fill="#2c2c2c" stroke="#2c2c2c" stroke-width="0.4">0</text>
<text transform="translate(38.91 271.2) scale(0.487 1)" font-size="16.15" fill="#2c2c2c" stroke="#2c2c2c" stroke-width="0.4">1</text>
<path d="M31.5 266.5H37.6" stroke="#2c2c2c" stroke-width="1.4"/>
<text transform="translate(753.96 164.4) scale(0.662 1)" font-size="16.15" fill="#2c2c2c" stroke="#2c2c2c" stroke-width="0.4">4</text>
<text transform="translate(753.61 206.2) scale(0.746 1)" font-size="15.91" fill="#2c2c2c" stroke="#2c2c2c" stroke-width="0.4">2</text>
<text transform="translate(753.75 248) scale(0.711 1)" font-size="15.91" fill="#2c2c2c" stroke="#2c2c2c" stroke-width="0.4">0</text>
<text transform="translate(753.61 289.8) scale(0.746 1)" font-size="15.91" fill="#2c2c2c" stroke="#2c2c2c" stroke-width="0.4">2</text>
<path d="M746.2 285.1H752.3" stroke="#2c2c2c" stroke-width="1.4"/>
<text transform="translate(38.91 337.3) scale(0.487 1)" font-size="16.15" fill="#2c2c2c" stroke="#2c2c2c" stroke-width="0.4">1</text>
<text transform="translate(37.05 369.8) scale(0.711 1)" font-size="15.91" fill="#2c2c2c" stroke="#2c2c2c" stroke-width="0.4">0</text>
<text transform="translate(38.91 402.3) scale(0.487 1)" font-size="16.15" fill="#2c2c2c" stroke="#2c2c2c" stroke-width="0.4">1</text>
<path d="M31.5 397.6H37.6" stroke="#2c2c2c" stroke-width="1.4"/>
<text transform="translate(36.91 434.8) scale(0.746 1)" font-size="15.91" fill="#2c2c2c" stroke="#2c2c2c" stroke-width="0.4">2</text>
<path d="M29.5 430.1H35.6" stroke="#2c2c2c" stroke-width="1.4"/>
<text transform="translate(747.34 334.7) scale(0.718 1)" font-size="15.91" fill="#2c2c2c" stroke="#2c2c2c" stroke-width="0.4">10</text>
<text transform="translate(753.75 370.2) scale(0.704 1)" font-size="16.15" fill="#2c2c2c" stroke="#2c2c2c" stroke-width="0.4">5</text>
<text transform="translate(753.75 405.7) scale(0.711 1)" font-size="15.91" fill="#2c2c2c" stroke="#2c2c2c" stroke-width="0.4">0</text>
<text transform="translate(753.75 441.2) scale(0.704 1)" font-size="16.15" fill="#2c2c2c" stroke="#2c2c2c" stroke-width="0.4">5</text>
<path d="M746.2 436.5H752.3" stroke="#2c2c2c" stroke-width="1.4"/>
<text transform="translate(37.61 465.6) scale(0.749 1)" font-size="16.49" fill="#2c2c2c" stroke="#2c2c2c" stroke-width="0.4">0</text>
<text transform="translate(90.45 465.6) scale(0.786 1)" font-size="16.49" fill="#2c2c2c" stroke="#2c2c2c" stroke-width="0.4">2</text>
<text transform="translate(143.84 465.6) scale(0.698 1)" font-size="16.73" fill="#2c2c2c" stroke="#2c2c2c" stroke-width="0.4">4</text>
<text transform="translate(196.46 465.6) scale(0.774 1)" font-size="16.49" fill="#2c2c2c" stroke="#2c2c2c" stroke-width="0.4">6</text>
<text transform="translate(249.57 465.6) scale(0.761 1)" font-size="16.49" fill="#2c2c2c" stroke="#2c2c2c" stroke-width="0.4">8</text>
<text transform="translate(303.26 465.6) scale(0.681 1)" font-size="16.49" fill="#2c2c2c" stroke="#2c2c2c" stroke-width="0.4">10</text>
<text transform="translate(356.25 465.6) scale(0.690 1)" font-size="16.49" fill="#2c2c2c" stroke="#2c2c2c" stroke-width="0.4">12</text>
<text transform="translate(409.27 465.6) scale(0.665 1)" font-size="16.73" fill="#2c2c2c" stroke="#2c2c2c" stroke-width="0.4">14</text>
<text transform="translate(462.25 465.6) scale(0.684 1)" font-size="16.49" fill="#2c2c2c" stroke="#2c2c2c" stroke-width="0.4">16</text>
<text transform="translate(515.25 465.6) scale(0.684 1)" font-size="16.49" fill="#2c2c2c" stroke="#2c2c2c" stroke-width="0.4">18</text>
<text transform="translate(567.73 465.6) scale(0.753 1)" font-size="16.49" fill="#2c2c2c" stroke="#2c2c2c" stroke-width="0.4">20</text>
<text transform="translate(620.72 465.6) scale(0.763 1)" font-size="16.49" fill="#2c2c2c" stroke="#2c2c2c" stroke-width="0.4">22</text>
<text transform="translate(754.51 465.6) scale(0.749 1)" font-size="16.49" fill="#2c2c2c" stroke="#2c2c2c" stroke-width="0.4">0</text>
<text transform="translate(809.67 465.6) scale(0.786 1)" font-size="16.49" fill="#2c2c2c" stroke="#2c2c2c" stroke-width="0.4">2</text>
<text transform="translate(865.38 465.6) scale(0.698 1)" font-size="16.73" fill="#2c2c2c" stroke="#2c2c2c" stroke-width="0.4">4</text>
<text transform="translate(920.32 465.6) scale(0.774 1)" font-size="16.49" fill="#2c2c2c" stroke="#2c2c2c" stroke-width="0.4">6</text>
<text transform="translate(975.75 465.6) scale(0.761 1)" font-size="16.49" fill="#2c2c2c" stroke="#2c2c2c" stroke-width="0.4">8</text>
<text transform="translate(1031.76 465.6) scale(0.681 1)" font-size="16.49" fill="#2c2c2c" stroke="#2c2c2c" stroke-width="0.4">10</text>
<text transform="translate(1087.07 465.6) scale(0.690 1)" font-size="16.49" fill="#2c2c2c" stroke="#2c2c2c" stroke-width="0.4">12</text>
<text transform="translate(1142.41 465.6) scale(0.665 1)" font-size="16.73" fill="#2c2c2c" stroke="#2c2c2c" stroke-width="0.4">14</text>
<text transform="translate(1197.71 465.6) scale(0.684 1)" font-size="16.49" fill="#2c2c2c" stroke="#2c2c2c" stroke-width="0.4">16</text>
<text transform="translate(1253.03 465.6) scale(0.684 1)" font-size="16.49" fill="#2c2c2c" stroke="#2c2c2c" stroke-width="0.4">18</text>
<text transform="translate(1307.83 465.6) scale(0.753 1)" font-size="16.49" fill="#2c2c2c" stroke="#2c2c2c" stroke-width="0.4">20</text>
<text transform="translate(1363.14 465.6) scale(0.763 1)" font-size="16.49" fill="#2c2c2c" stroke="#2c2c2c" stroke-width="0.4">22</text>
<text transform="translate(16.6 153.01) rotate(-90) scale(0.604 1)" font-size="15.42" fill="#2c2c2c" stroke="#2c2c2c" stroke-width="0.45">X</text>
<text transform="translate(16.6 138.32) rotate(-90) scale(0.767 1)" font-size="16.06" fill="#2c2c2c" stroke="#2c2c2c" stroke-width="0.45">10+3</text>
<text transform="translate(23.4 301.81) rotate(-90) scale(0.604 1)" font-size="15.42" fill="#2c2c2c" stroke="#2c2c2c" stroke-width="0.45">X</text>
<text transform="translate(23.4 287.12) rotate(-90) scale(0.762 1)" font-size="16.06" fill="#2c2c2c" stroke="#2c2c2c" stroke-width="0.45">10+4</text>
<text transform="translate(22.8 450.61) rotate(-90) scale(0.604 1)" font-size="15.42" fill="#2c2c2c" stroke="#2c2c2c" stroke-width="0.45">X</text>
<text transform="translate(22.8 435.92) rotate(-90) scale(0.762 1)" font-size="16.06" fill="#2c2c2c" stroke="#2c2c2c" stroke-width="0.45">10+4</text>
<text transform="translate(740.6 153.01) rotate(-90) scale(0.604 1)" font-size="15.42" fill="#2c2c2c" stroke="#2c2c2c" stroke-width="0.45">X</text>
<text transform="translate(740.6 138.32) rotate(-90) scale(0.767 1)" font-size="16.06" fill="#2c2c2c" stroke="#2c2c2c" stroke-width="0.45">10+3</text>
<text transform="translate(740.6 301.81) rotate(-90) scale(0.604 1)" font-size="15.42" fill="#2c2c2c" stroke="#2c2c2c" stroke-width="0.45">X</text>
<text transform="translate(740.6 287.12) rotate(-90) scale(0.767 1)" font-size="16.06" fill="#2c2c2c" stroke="#2c2c2c" stroke-width="0.45">10+3</text>
<text transform="translate(740.6 450.61) rotate(-90) scale(0.604 1)" font-size="15.42" fill="#2c2c2c" stroke="#2c2c2c" stroke-width="0.45">X</text>
<text transform="translate(740.6 435.92) rotate(-90) scale(0.767 1)" font-size="16.06" fill="#2c2c2c" stroke="#2c2c2c" stroke-width="0.45">10+3</text>
<text transform="translate(551.04 33.1) scale(0.844 1)" font-size="12.69" fill="#2c2c2c" stroke="#2c2c2c" stroke-width="0.6">esk</text>
<text transform="translate(583.2 33.1) scale(0.598 1)" font-size="15.27" fill="#2c2c2c" stroke="#2c2c2c" stroke-width="0.6">Z</text>
<text transform="translate(551.08 49.4) scale(0.606 1)" font-size="15.85" fill="#2c2c2c" stroke="#2c2c2c" stroke-width="0.6">APR</text>
<text transform="translate(578.63 49.4) scale(0.752 1)" font-size="15.63" fill="#2c2c2c" stroke="#2c2c2c" stroke-width="0.6">05</text>
<text transform="translate(598.81 49.4) scale(0.844 1)" font-size="15.03" fill="#2c2c2c" stroke="#2c2c2c" stroke-width="0.6">(095),</text>
<text transform="translate(638.08 49.4) scale(0.790 1)" font-size="15.63" fill="#2c2c2c" stroke="#2c2c2c" stroke-width="0.6">2003</text>
<text transform="translate(550.62 65) scale(0.760 1)" font-size="15.77" fill="#2c2c2c" stroke="#2c2c2c" stroke-width="0.6">01:53:07.000</text>
<text transform="translate(1267.84 33.1) scale(0.844 1)" font-size="12.69" fill="#2c2c2c" stroke="#2c2c2c" stroke-width="0.6">esk</text>
<text transform="translate(1300 33.1) scale(0.598 1)" font-size="15.27" fill="#2c2c2c" stroke="#2c2c2c" stroke-width="0.6">Z</text>
<text transform="translate(1267.88 49.4) scale(0.606 1)" font-size="15.85" fill="#2c2c2c" stroke="#2c2c2c" stroke-width="0.6">APR</text>
<text transform="translate(1295.74 49.4) scale(0.735 1)" font-size="15.63" fill="#2c2c2c" stroke="#2c2c2c" stroke-width="0.6">18</text>
<text transform="translate(1315.61 49.4) scale(0.844 1)" font-size="15.03" fill="#2c2c2c" stroke="#2c2c2c" stroke-width="0.6">(108),</text>
<text transform="translate(1354.88 49.4) scale(0.790 1)" font-size="15.63" fill="#2c2c2c" stroke="#2c2c2c" stroke-width="0.6">2003</text>
<text transform="translate(1267.42 65) scale(0.760 1)" font-size="15.77" fill="#2c2c2c" stroke="#2c2c2c" stroke-width="0.6">01:06:27.000</text>
<text transform="translate(551.04 181.9) scale(0.844 1)" font-size="12.69" fill="#2c2c2c" stroke="#2c2c2c" stroke-width="0.6">esk</text>
<text transform="translate(582.76 181.9) scale(0.587 1)" font-size="15.27" fill="#2c2c2c" stroke="#2c2c2c" stroke-width="0.6">N</text>
<text transform="translate(551.08 198.2) scale(0.606 1)" font-size="15.85" fill="#2c2c2c" stroke="#2c2c2c" stroke-width="0.6">APR</text>
<text transform="translate(578.63 198.2) scale(0.752 1)" font-size="15.63" fill="#2c2c2c" stroke="#2c2c2c" stroke-width="0.6">05</text>
<text transform="translate(598.81 198.2) scale(0.844 1)" font-size="15.03" fill="#2c2c2c" stroke="#2c2c2c" stroke-width="0.6">(095),</text>
<text transform="translate(638.08 198.2) scale(0.790 1)" font-size="15.63" fill="#2c2c2c" stroke="#2c2c2c" stroke-width="0.6">2003</text>
<text transform="translate(550.62 213.8) scale(0.760 1)" font-size="15.77" fill="#2c2c2c" stroke="#2c2c2c" stroke-width="0.6">01:53:07.000</text>
<text transform="translate(1267.84 181.9) scale(0.844 1)" font-size="12.69" fill="#2c2c2c" stroke="#2c2c2c" stroke-width="0.6">esk</text>
<text transform="translate(1299.56 181.9) scale(0.587 1)" font-size="15.27" fill="#2c2c2c" stroke="#2c2c2c" stroke-width="0.6">N</text>
<text transform="translate(1267.88 198.2) scale(0.606 1)" font-size="15.85" fill="#2c2c2c" stroke="#2c2c2c" stroke-width="0.6">APR</text>
<text transform="translate(1295.74 198.2) scale(0.735 1)" font-size="15.63" fill="#2c2c2c" stroke="#2c2c2c" stroke-width="0.6">18</text>
<text transform="translate(1315.61 198.2) scale(0.844 1)" font-size="15.03" fill="#2c2c2c" stroke="#2c2c2c" stroke-width="0.6">(108),</text>
<text transform="translate(1354.88 198.2) scale(0.790 1)" font-size="15.63" fill="#2c2c2c" stroke="#2c2c2c" stroke-width="0.6">2003</text>
<text transform="translate(1267.42 213.8) scale(0.760 1)" font-size="15.77" fill="#2c2c2c" stroke="#2c2c2c" stroke-width="0.6">01:06:27.000</text>
<text transform="translate(551.04 330.7) scale(0.844 1)" font-size="12.69" fill="#2c2c2c" stroke="#2c2c2c" stroke-width="0.6">esk</text>
<text transform="translate(582.74 330.7) scale(0.603 1)" font-size="15.27" fill="#2c2c2c" stroke="#2c2c2c" stroke-width="0.6">E</text>
<text transform="translate(551.08 347) scale(0.606 1)" font-size="15.85" fill="#2c2c2c" stroke="#2c2c2c" stroke-width="0.6">APR</text>
<text transform="translate(578.63 347) scale(0.752 1)" font-size="15.63" fill="#2c2c2c" stroke="#2c2c2c" stroke-width="0.6">05</text>
<text transform="translate(598.81 347) scale(0.844 1)" font-size="15.03" fill="#2c2c2c" stroke="#2c2c2c" stroke-width="0.6">(095),</text>
<text transform="translate(638.08 347) scale(0.790 1)" font-size="15.63" fill="#2c2c2c" stroke="#2c2c2c" stroke-width="0.6">2003</text>
<text transform="translate(550.62 362.6) scale(0.760 1)" font-size="15.77" fill="#2c2c2c" stroke="#2c2c2c" stroke-width="0.6">01:53:07.000</text>
<text transform="translate(1267.84 330.7) scale(0.844 1)" font-size="12.69" fill="#2c2c2c" stroke="#2c2c2c" stroke-width="0.6">esk</text>
<text transform="translate(1299.54 330.7) scale(0.603 1)" font-size="15.27" fill="#2c2c2c" stroke="#2c2c2c" stroke-width="0.6">E</text>
<text transform="translate(1267.88 347) scale(0.606 1)" font-size="15.85" fill="#2c2c2c" stroke="#2c2c2c" stroke-width="0.6">APR</text>
<text transform="translate(1295.74 347) scale(0.735 1)" font-size="15.63" fill="#2c2c2c" stroke="#2c2c2c" stroke-width="0.6">18</text>
<text transform="translate(1315.61 347) scale(0.844 1)" font-size="15.03" fill="#2c2c2c" stroke="#2c2c2c" stroke-width="0.6">(108),</text>
<text transform="translate(1354.88 347) scale(0.790 1)" font-size="15.63" fill="#2c2c2c" stroke="#2c2c2c" stroke-width="0.6">2003</text>
<text transform="translate(1267.42 362.6) scale(0.760 1)" font-size="15.77" fill="#2c2c2c" stroke="#2c2c2c" stroke-width="0.6">01:06:27.000</text>
<text transform="translate(4.07 21.9) scale(0.991 1)" font-size="26.79" fill="#111" stroke="#111" stroke-width="0.3">a</text>
<text transform="translate(725.22 25.6) scale(1.051 1)" font-size="28.97" fill="#111" stroke="#111" stroke-width="0.3">b</text></g></svg>
</body></html>
